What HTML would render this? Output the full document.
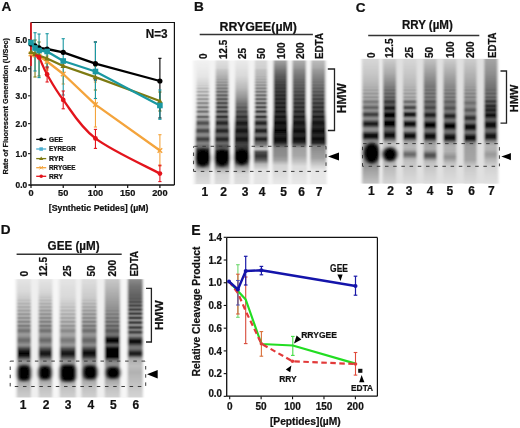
<!DOCTYPE html><html><head><meta charset="utf-8"><style>html,body{margin:0;padding:0;background:#fff;width:520px;height:428px;overflow:hidden}svg{display:block;will-change:transform}</style></head><body>
<svg width="520" height="428" viewBox="0 0 520 428" font-family="'Liberation Sans', sans-serif" font-weight="bold"><style>text{stroke:#111;stroke-width:0.22px;paint-order:stroke}</style>
<rect width="520" height="428" fill="#fff"/>
<defs><filter id="blob" x="-50%" y="-50%" width="200%" height="200%"><feGaussianBlur stdDeviation="1.5"/></filter></defs>
<defs><linearGradient id="g1" gradientUnits="userSpaceOnUse" x1="0" y1="60.6" x2="0" y2="183.6"><stop offset="0.000" stop-color="#f2f2f2"/><stop offset="0.130" stop-color="#e5e5e5"/><stop offset="0.195" stop-color="#d3d3d3"/><stop offset="0.203" stop-color="#cdcdcd"/><stop offset="0.211" stop-color="#d1d1d1"/><stop offset="0.215" stop-color="#cecece"/><stop offset="0.224" stop-color="#bdbdbd"/><stop offset="0.228" stop-color="#bbbbbb"/><stop offset="0.236" stop-color="#cbcbcb"/><stop offset="0.240" stop-color="#cdcdcd"/><stop offset="0.244" stop-color="#c4c4c4"/><stop offset="0.248" stop-color="#b6b6b6"/><stop offset="0.252" stop-color="#acacac"/><stop offset="0.256" stop-color="#afafaf"/><stop offset="0.264" stop-color="#c7c7c7"/><stop offset="0.268" stop-color="#cacaca"/><stop offset="0.272" stop-color="#c0c0c0"/><stop offset="0.280" stop-color="#a3a3a3"/><stop offset="0.285" stop-color="#a3a3a3"/><stop offset="0.293" stop-color="#bebebe"/><stop offset="0.297" stop-color="#c6c6c6"/><stop offset="0.301" stop-color="#c1c1c1"/><stop offset="0.309" stop-color="#9f9f9f"/><stop offset="0.313" stop-color="#969696"/><stop offset="0.317" stop-color="#9c9c9c"/><stop offset="0.325" stop-color="#bbbbbb"/><stop offset="0.329" stop-color="#c0c0c0"/><stop offset="0.333" stop-color="#b9b9b9"/><stop offset="0.341" stop-color="#949494"/><stop offset="0.346" stop-color="#8a8a8a"/><stop offset="0.350" stop-color="#919191"/><stop offset="0.358" stop-color="#b2b2b2"/><stop offset="0.362" stop-color="#b9b9b9"/><stop offset="0.366" stop-color="#b2b2b2"/><stop offset="0.370" stop-color="#a1a1a1"/><stop offset="0.374" stop-color="#8c8c8c"/><stop offset="0.378" stop-color="#7f7f7f"/><stop offset="0.382" stop-color="#828282"/><stop offset="0.390" stop-color="#a7a7a7"/><stop offset="0.394" stop-color="#b2b2b2"/><stop offset="0.398" stop-color="#b2b2b2"/><stop offset="0.402" stop-color="#a6a6a6"/><stop offset="0.411" stop-color="#7b7b7b"/><stop offset="0.415" stop-color="#707070"/><stop offset="0.419" stop-color="#787878"/><stop offset="0.427" stop-color="#a0a0a0"/><stop offset="0.431" stop-color="#adadad"/><stop offset="0.435" stop-color="#b1b1b1"/><stop offset="0.439" stop-color="#aeaeae"/><stop offset="0.443" stop-color="#a5a5a5"/><stop offset="0.447" stop-color="#939393"/><stop offset="0.451" stop-color="#7a7a7a"/><stop offset="0.455" stop-color="#656565"/><stop offset="0.459" stop-color="#616161"/><stop offset="0.463" stop-color="#707070"/><stop offset="0.467" stop-color="#878787"/><stop offset="0.472" stop-color="#989898"/><stop offset="0.476" stop-color="#9d9d9d"/><stop offset="0.480" stop-color="#9a9a9a"/><stop offset="0.488" stop-color="#858585"/><stop offset="0.500" stop-color="#5c5c5c"/><stop offset="0.504" stop-color="#535353"/><stop offset="0.508" stop-color="#505050"/><stop offset="0.512" stop-color="#535353"/><stop offset="0.520" stop-color="#666666"/><stop offset="0.528" stop-color="#7f7f7f"/><stop offset="0.533" stop-color="#888888"/><stop offset="0.537" stop-color="#8c8c8c"/><stop offset="0.541" stop-color="#8c8c8c"/><stop offset="0.545" stop-color="#888888"/><stop offset="0.553" stop-color="#727272"/><stop offset="0.561" stop-color="#575757"/><stop offset="0.565" stop-color="#4d4d4d"/><stop offset="0.569" stop-color="#474747"/><stop offset="0.573" stop-color="#484848"/><stop offset="0.577" stop-color="#4e4e4e"/><stop offset="0.593" stop-color="#7c7c7c"/><stop offset="0.602" stop-color="#898989"/><stop offset="0.606" stop-color="#898989"/><stop offset="0.614" stop-color="#7f7f7f"/><stop offset="0.630" stop-color="#4d4d4d"/><stop offset="0.634" stop-color="#444444"/><stop offset="0.638" stop-color="#404040"/><stop offset="0.642" stop-color="#414141"/><stop offset="0.650" stop-color="#525252"/><stop offset="0.663" stop-color="#747474"/><stop offset="0.671" stop-color="#828282"/><stop offset="0.679" stop-color="#7e7e7e"/><stop offset="0.695" stop-color="#6c6c6c"/><stop offset="0.703" stop-color="#6c6c6c"/><stop offset="0.728" stop-color="#272727"/><stop offset="0.752" stop-color="#0f0f0f"/><stop offset="0.793" stop-color="#1f1f1f"/><stop offset="0.833" stop-color="#484848"/><stop offset="0.858" stop-color="#838383"/><stop offset="0.882" stop-color="#b0b0b0"/><stop offset="0.907" stop-color="#cdcdcd"/><stop offset="1.000" stop-color="#dcdcdc"/></linearGradient><linearGradient id="g2" gradientUnits="userSpaceOnUse" x1="0" y1="60.6" x2="0" y2="183.6"><stop offset="0.000" stop-color="#e0e0e0"/><stop offset="0.061" stop-color="#d4d4d4"/><stop offset="0.077" stop-color="#c5c5c5"/><stop offset="0.106" stop-color="#bababa"/><stop offset="0.126" stop-color="#b1b1b1"/><stop offset="0.134" stop-color="#acacac"/><stop offset="0.142" stop-color="#adadad"/><stop offset="0.150" stop-color="#a3a3a3"/><stop offset="0.154" stop-color="#a1a1a1"/><stop offset="0.163" stop-color="#a7a7a7"/><stop offset="0.167" stop-color="#a3a3a3"/><stop offset="0.175" stop-color="#959595"/><stop offset="0.179" stop-color="#979797"/><stop offset="0.183" stop-color="#9e9e9e"/><stop offset="0.187" stop-color="#a1a1a1"/><stop offset="0.191" stop-color="#9b9b9b"/><stop offset="0.195" stop-color="#8f8f8f"/><stop offset="0.199" stop-color="#888888"/><stop offset="0.203" stop-color="#8c8c8c"/><stop offset="0.211" stop-color="#9c9c9c"/><stop offset="0.215" stop-color="#979797"/><stop offset="0.224" stop-color="#7c7c7c"/><stop offset="0.228" stop-color="#7c7c7c"/><stop offset="0.236" stop-color="#939393"/><stop offset="0.240" stop-color="#969696"/><stop offset="0.244" stop-color="#8b8b8b"/><stop offset="0.248" stop-color="#7a7a7a"/><stop offset="0.252" stop-color="#6e6e6e"/><stop offset="0.256" stop-color="#727272"/><stop offset="0.264" stop-color="#8e8e8e"/><stop offset="0.268" stop-color="#919191"/><stop offset="0.272" stop-color="#868686"/><stop offset="0.276" stop-color="#737373"/><stop offset="0.280" stop-color="#656565"/><stop offset="0.285" stop-color="#656565"/><stop offset="0.293" stop-color="#848484"/><stop offset="0.297" stop-color="#8d8d8d"/><stop offset="0.301" stop-color="#878787"/><stop offset="0.309" stop-color="#616161"/><stop offset="0.313" stop-color="#575757"/><stop offset="0.317" stop-color="#5e5e5e"/><stop offset="0.325" stop-color="#818181"/><stop offset="0.329" stop-color="#878787"/><stop offset="0.333" stop-color="#7f7f7f"/><stop offset="0.341" stop-color="#575757"/><stop offset="0.346" stop-color="#4d4d4d"/><stop offset="0.350" stop-color="#555555"/><stop offset="0.358" stop-color="#7a7a7a"/><stop offset="0.362" stop-color="#818181"/><stop offset="0.366" stop-color="#7b7b7b"/><stop offset="0.370" stop-color="#686868"/><stop offset="0.374" stop-color="#525252"/><stop offset="0.378" stop-color="#444444"/><stop offset="0.382" stop-color="#484848"/><stop offset="0.390" stop-color="#707070"/><stop offset="0.394" stop-color="#7d7d7d"/><stop offset="0.398" stop-color="#7d7d7d"/><stop offset="0.402" stop-color="#717171"/><stop offset="0.411" stop-color="#444444"/><stop offset="0.415" stop-color="#393939"/><stop offset="0.419" stop-color="#424242"/><stop offset="0.427" stop-color="#6d6d6d"/><stop offset="0.431" stop-color="#7a7a7a"/><stop offset="0.435" stop-color="#7f7f7f"/><stop offset="0.439" stop-color="#7d7d7d"/><stop offset="0.443" stop-color="#747474"/><stop offset="0.447" stop-color="#616161"/><stop offset="0.451" stop-color="#484848"/><stop offset="0.455" stop-color="#333333"/><stop offset="0.459" stop-color="#303030"/><stop offset="0.463" stop-color="#3f3f3f"/><stop offset="0.467" stop-color="#565656"/><stop offset="0.472" stop-color="#676767"/><stop offset="0.476" stop-color="#6d6d6d"/><stop offset="0.480" stop-color="#696969"/><stop offset="0.488" stop-color="#565656"/><stop offset="0.500" stop-color="#303030"/><stop offset="0.504" stop-color="#292929"/><stop offset="0.508" stop-color="#272727"/><stop offset="0.512" stop-color="#2b2b2b"/><stop offset="0.520" stop-color="#3f3f3f"/><stop offset="0.528" stop-color="#575757"/><stop offset="0.537" stop-color="#646464"/><stop offset="0.541" stop-color="#646464"/><stop offset="0.549" stop-color="#585858"/><stop offset="0.565" stop-color="#2a2a2a"/><stop offset="0.569" stop-color="#252525"/><stop offset="0.573" stop-color="#262626"/><stop offset="0.577" stop-color="#2c2c2c"/><stop offset="0.593" stop-color="#595959"/><stop offset="0.602" stop-color="#656565"/><stop offset="0.610" stop-color="#636363"/><stop offset="0.618" stop-color="#545454"/><stop offset="0.630" stop-color="#313131"/><stop offset="0.634" stop-color="#282828"/><stop offset="0.638" stop-color="#252525"/><stop offset="0.642" stop-color="#262626"/><stop offset="0.646" stop-color="#2d2d2d"/><stop offset="0.663" stop-color="#5b5b5b"/><stop offset="0.671" stop-color="#696969"/><stop offset="0.683" stop-color="#606060"/><stop offset="0.695" stop-color="#505050"/><stop offset="0.715" stop-color="#595959"/><stop offset="0.720" stop-color="#585858"/><stop offset="0.740" stop-color="#191919"/><stop offset="0.744" stop-color="#0f0f0f"/><stop offset="0.793" stop-color="#1f1f1f"/><stop offset="0.833" stop-color="#474747"/><stop offset="0.878" stop-color="#9d9d9d"/><stop offset="0.890" stop-color="#b5b5b5"/><stop offset="0.923" stop-color="#d2d2d2"/><stop offset="1.000" stop-color="#dcdcdc"/></linearGradient><linearGradient id="g3" gradientUnits="userSpaceOnUse" x1="0" y1="60.6" x2="0" y2="183.6"><stop offset="0.000" stop-color="#eaeaea"/><stop offset="0.126" stop-color="#d9d9d9"/><stop offset="0.220" stop-color="#bababa"/><stop offset="0.293" stop-color="#989898"/><stop offset="0.337" stop-color="#7c7c7c"/><stop offset="0.350" stop-color="#717171"/><stop offset="0.362" stop-color="#727272"/><stop offset="0.370" stop-color="#696969"/><stop offset="0.378" stop-color="#5b5b5b"/><stop offset="0.382" stop-color="#5a5a5a"/><stop offset="0.394" stop-color="#676767"/><stop offset="0.398" stop-color="#666666"/><stop offset="0.402" stop-color="#606060"/><stop offset="0.411" stop-color="#4a4a4a"/><stop offset="0.415" stop-color="#444444"/><stop offset="0.419" stop-color="#454545"/><stop offset="0.427" stop-color="#555555"/><stop offset="0.435" stop-color="#5a5a5a"/><stop offset="0.443" stop-color="#525252"/><stop offset="0.455" stop-color="#303030"/><stop offset="0.459" stop-color="#2e2e2e"/><stop offset="0.472" stop-color="#474747"/><stop offset="0.476" stop-color="#494949"/><stop offset="0.484" stop-color="#414141"/><stop offset="0.504" stop-color="#1d1d1d"/><stop offset="0.512" stop-color="#1b1b1b"/><stop offset="0.524" stop-color="#2a2a2a"/><stop offset="0.533" stop-color="#363636"/><stop offset="0.541" stop-color="#393939"/><stop offset="0.549" stop-color="#313131"/><stop offset="0.565" stop-color="#171717"/><stop offset="0.573" stop-color="#141414"/><stop offset="0.585" stop-color="#242424"/><stop offset="0.598" stop-color="#353535"/><stop offset="0.606" stop-color="#383838"/><stop offset="0.618" stop-color="#2d2d2d"/><stop offset="0.634" stop-color="#151515"/><stop offset="0.642" stop-color="#141414"/><stop offset="0.650" stop-color="#1e1e1e"/><stop offset="0.667" stop-color="#393939"/><stop offset="0.683" stop-color="#434343"/><stop offset="0.695" stop-color="#3f3f3f"/><stop offset="0.711" stop-color="#353535"/><stop offset="0.720" stop-color="#363636"/><stop offset="0.752" stop-color="#0f0f0f"/><stop offset="0.793" stop-color="#242424"/><stop offset="0.825" stop-color="#525252"/><stop offset="0.854" stop-color="#898989"/><stop offset="0.882" stop-color="#b5b5b5"/><stop offset="0.923" stop-color="#d7d7d7"/><stop offset="1.000" stop-color="#dedede"/></linearGradient><linearGradient id="g4" gradientUnits="userSpaceOnUse" x1="0" y1="60.6" x2="0" y2="183.6"><stop offset="0.000" stop-color="#d7d7d7"/><stop offset="0.061" stop-color="#d0d0d0"/><stop offset="0.077" stop-color="#c1c1c1"/><stop offset="0.106" stop-color="#bbbbbb"/><stop offset="0.122" stop-color="#b9b9b9"/><stop offset="0.130" stop-color="#b2b2b2"/><stop offset="0.142" stop-color="#b5b5b5"/><stop offset="0.150" stop-color="#aaaaaa"/><stop offset="0.154" stop-color="#a9a9a9"/><stop offset="0.163" stop-color="#b0b0b0"/><stop offset="0.167" stop-color="#acacac"/><stop offset="0.175" stop-color="#9e9e9e"/><stop offset="0.179" stop-color="#a0a0a0"/><stop offset="0.183" stop-color="#a8a8a8"/><stop offset="0.187" stop-color="#acacac"/><stop offset="0.191" stop-color="#a5a5a5"/><stop offset="0.195" stop-color="#999999"/><stop offset="0.199" stop-color="#919191"/><stop offset="0.203" stop-color="#969696"/><stop offset="0.207" stop-color="#a1a1a1"/><stop offset="0.211" stop-color="#a9a9a9"/><stop offset="0.215" stop-color="#a3a3a3"/><stop offset="0.224" stop-color="#868686"/><stop offset="0.228" stop-color="#868686"/><stop offset="0.236" stop-color="#a2a2a2"/><stop offset="0.240" stop-color="#a6a6a6"/><stop offset="0.244" stop-color="#9a9a9a"/><stop offset="0.248" stop-color="#868686"/><stop offset="0.252" stop-color="#787878"/><stop offset="0.256" stop-color="#7d7d7d"/><stop offset="0.264" stop-color="#9f9f9f"/><stop offset="0.268" stop-color="#a4a4a4"/><stop offset="0.272" stop-color="#979797"/><stop offset="0.276" stop-color="#808080"/><stop offset="0.280" stop-color="#6f6f6f"/><stop offset="0.285" stop-color="#707070"/><stop offset="0.293" stop-color="#969696"/><stop offset="0.297" stop-color="#a1a1a1"/><stop offset="0.301" stop-color="#9b9b9b"/><stop offset="0.309" stop-color="#6e6e6e"/><stop offset="0.313" stop-color="#626262"/><stop offset="0.317" stop-color="#6b6b6b"/><stop offset="0.325" stop-color="#969696"/><stop offset="0.329" stop-color="#9e9e9e"/><stop offset="0.333" stop-color="#949494"/><stop offset="0.341" stop-color="#636363"/><stop offset="0.346" stop-color="#565656"/><stop offset="0.350" stop-color="#606060"/><stop offset="0.358" stop-color="#8f8f8f"/><stop offset="0.362" stop-color="#989898"/><stop offset="0.366" stop-color="#909090"/><stop offset="0.370" stop-color="#797979"/><stop offset="0.374" stop-color="#5c5c5c"/><stop offset="0.378" stop-color="#4b4b4b"/><stop offset="0.382" stop-color="#505050"/><stop offset="0.390" stop-color="#838383"/><stop offset="0.394" stop-color="#929292"/><stop offset="0.398" stop-color="#939393"/><stop offset="0.402" stop-color="#848484"/><stop offset="0.411" stop-color="#4a4a4a"/><stop offset="0.415" stop-color="#3d3d3d"/><stop offset="0.419" stop-color="#484848"/><stop offset="0.427" stop-color="#7d7d7d"/><stop offset="0.431" stop-color="#8d8d8d"/><stop offset="0.435" stop-color="#929292"/><stop offset="0.439" stop-color="#909090"/><stop offset="0.443" stop-color="#848484"/><stop offset="0.447" stop-color="#6e6e6e"/><stop offset="0.451" stop-color="#4e4e4e"/><stop offset="0.455" stop-color="#353535"/><stop offset="0.459" stop-color="#313131"/><stop offset="0.463" stop-color="#444444"/><stop offset="0.467" stop-color="#616161"/><stop offset="0.472" stop-color="#757575"/><stop offset="0.476" stop-color="#7d7d7d"/><stop offset="0.480" stop-color="#797979"/><stop offset="0.488" stop-color="#616161"/><stop offset="0.500" stop-color="#323232"/><stop offset="0.504" stop-color="#282828"/><stop offset="0.508" stop-color="#252525"/><stop offset="0.512" stop-color="#292929"/><stop offset="0.520" stop-color="#404040"/><stop offset="0.528" stop-color="#5d5d5d"/><stop offset="0.533" stop-color="#686868"/><stop offset="0.537" stop-color="#6e6e6e"/><stop offset="0.541" stop-color="#6e6e6e"/><stop offset="0.545" stop-color="#696969"/><stop offset="0.553" stop-color="#515151"/><stop offset="0.561" stop-color="#313131"/><stop offset="0.565" stop-color="#252525"/><stop offset="0.569" stop-color="#1f1f1f"/><stop offset="0.573" stop-color="#1f1f1f"/><stop offset="0.577" stop-color="#272727"/><stop offset="0.593" stop-color="#606060"/><stop offset="0.598" stop-color="#6a6a6a"/><stop offset="0.602" stop-color="#6f6f6f"/><stop offset="0.606" stop-color="#707070"/><stop offset="0.610" stop-color="#6d6d6d"/><stop offset="0.618" stop-color="#5a5a5a"/><stop offset="0.630" stop-color="#2f2f2f"/><stop offset="0.634" stop-color="#252525"/><stop offset="0.638" stop-color="#212121"/><stop offset="0.642" stop-color="#242424"/><stop offset="0.646" stop-color="#2c2c2c"/><stop offset="0.663" stop-color="#606060"/><stop offset="0.671" stop-color="#686868"/><stop offset="0.687" stop-color="#818181"/><stop offset="0.699" stop-color="#a0a0a0"/><stop offset="0.715" stop-color="#c1c1c1"/><stop offset="0.720" stop-color="#c4c4c4"/><stop offset="0.740" stop-color="#606060"/><stop offset="0.744" stop-color="#4f4f4f"/><stop offset="0.776" stop-color="#333333"/><stop offset="0.809" stop-color="#616161"/><stop offset="0.841" stop-color="#b5b5b5"/><stop offset="0.890" stop-color="#e1e1e1"/><stop offset="1.000" stop-color="#e4e4e4"/></linearGradient><linearGradient id="g5" gradientUnits="userSpaceOnUse" x1="0" y1="60.6" x2="0" y2="183.6"><stop offset="0.000" stop-color="#a2a2a2"/><stop offset="0.065" stop-color="#7d7d7d"/><stop offset="0.081" stop-color="#717171"/><stop offset="0.134" stop-color="#575757"/><stop offset="0.146" stop-color="#545454"/><stop offset="0.154" stop-color="#4f4f4f"/><stop offset="0.163" stop-color="#505050"/><stop offset="0.175" stop-color="#464646"/><stop offset="0.187" stop-color="#494949"/><stop offset="0.199" stop-color="#3d3d3d"/><stop offset="0.211" stop-color="#444444"/><stop offset="0.224" stop-color="#383838"/><stop offset="0.228" stop-color="#373737"/><stop offset="0.236" stop-color="#404040"/><stop offset="0.240" stop-color="#404040"/><stop offset="0.252" stop-color="#313131"/><stop offset="0.256" stop-color="#323232"/><stop offset="0.264" stop-color="#3c3c3c"/><stop offset="0.268" stop-color="#3d3d3d"/><stop offset="0.280" stop-color="#2b2b2b"/><stop offset="0.285" stop-color="#2b2b2b"/><stop offset="0.297" stop-color="#3b3b3b"/><stop offset="0.301" stop-color="#393939"/><stop offset="0.309" stop-color="#292929"/><stop offset="0.313" stop-color="#252525"/><stop offset="0.317" stop-color="#282828"/><stop offset="0.325" stop-color="#373737"/><stop offset="0.329" stop-color="#393939"/><stop offset="0.333" stop-color="#363636"/><stop offset="0.341" stop-color="#252525"/><stop offset="0.346" stop-color="#202020"/><stop offset="0.350" stop-color="#242424"/><stop offset="0.358" stop-color="#333333"/><stop offset="0.362" stop-color="#363636"/><stop offset="0.366" stop-color="#333333"/><stop offset="0.378" stop-color="#1c1c1c"/><stop offset="0.382" stop-color="#1e1e1e"/><stop offset="0.390" stop-color="#2e2e2e"/><stop offset="0.394" stop-color="#333333"/><stop offset="0.398" stop-color="#333333"/><stop offset="0.402" stop-color="#2e2e2e"/><stop offset="0.411" stop-color="#1b1b1b"/><stop offset="0.415" stop-color="#171717"/><stop offset="0.419" stop-color="#1a1a1a"/><stop offset="0.427" stop-color="#2c2c2c"/><stop offset="0.435" stop-color="#323232"/><stop offset="0.443" stop-color="#2e2e2e"/><stop offset="0.455" stop-color="#131313"/><stop offset="0.459" stop-color="#111111"/><stop offset="0.472" stop-color="#272727"/><stop offset="0.480" stop-color="#282828"/><stop offset="0.504" stop-color="#0c0c0c"/><stop offset="0.512" stop-color="#0b0b0b"/><stop offset="0.533" stop-color="#202020"/><stop offset="0.545" stop-color="#1f1f1f"/><stop offset="0.565" stop-color="#070707"/><stop offset="0.573" stop-color="#060606"/><stop offset="0.598" stop-color="#1f1f1f"/><stop offset="0.610" stop-color="#212121"/><stop offset="0.634" stop-color="#0a0a0a"/><stop offset="0.642" stop-color="#0a0a0a"/><stop offset="0.663" stop-color="#1e1e1e"/><stop offset="0.699" stop-color="#6d6d6d"/><stop offset="0.711" stop-color="#878787"/><stop offset="0.772" stop-color="#8e8e8e"/><stop offset="0.809" stop-color="#a1a1a1"/><stop offset="0.850" stop-color="#d2d2d2"/><stop offset="1.000" stop-color="#e8e8e8"/></linearGradient><linearGradient id="g6" gradientUnits="userSpaceOnUse" x1="0" y1="60.6" x2="0" y2="183.6"><stop offset="0.000" stop-color="#adadad"/><stop offset="0.061" stop-color="#949494"/><stop offset="0.077" stop-color="#878787"/><stop offset="0.134" stop-color="#707070"/><stop offset="0.146" stop-color="#6d6d6d"/><stop offset="0.154" stop-color="#686868"/><stop offset="0.163" stop-color="#6a6a6a"/><stop offset="0.175" stop-color="#616161"/><stop offset="0.187" stop-color="#656565"/><stop offset="0.199" stop-color="#5a5a5a"/><stop offset="0.211" stop-color="#616161"/><stop offset="0.220" stop-color="#595959"/><stop offset="0.224" stop-color="#545454"/><stop offset="0.228" stop-color="#535353"/><stop offset="0.236" stop-color="#5b5b5b"/><stop offset="0.240" stop-color="#5c5c5c"/><stop offset="0.252" stop-color="#4b4b4b"/><stop offset="0.256" stop-color="#4c4c4c"/><stop offset="0.264" stop-color="#565656"/><stop offset="0.268" stop-color="#575757"/><stop offset="0.280" stop-color="#434343"/><stop offset="0.285" stop-color="#434343"/><stop offset="0.297" stop-color="#525252"/><stop offset="0.301" stop-color="#4f4f4f"/><stop offset="0.309" stop-color="#3e3e3e"/><stop offset="0.313" stop-color="#393939"/><stop offset="0.317" stop-color="#3c3c3c"/><stop offset="0.325" stop-color="#4b4b4b"/><stop offset="0.329" stop-color="#4d4d4d"/><stop offset="0.333" stop-color="#494949"/><stop offset="0.341" stop-color="#373737"/><stop offset="0.346" stop-color="#323232"/><stop offset="0.350" stop-color="#353535"/><stop offset="0.358" stop-color="#454545"/><stop offset="0.362" stop-color="#484848"/><stop offset="0.366" stop-color="#454545"/><stop offset="0.374" stop-color="#323232"/><stop offset="0.378" stop-color="#2b2b2b"/><stop offset="0.382" stop-color="#2d2d2d"/><stop offset="0.390" stop-color="#3e3e3e"/><stop offset="0.394" stop-color="#434343"/><stop offset="0.398" stop-color="#434343"/><stop offset="0.402" stop-color="#3e3e3e"/><stop offset="0.411" stop-color="#292929"/><stop offset="0.415" stop-color="#242424"/><stop offset="0.419" stop-color="#272727"/><stop offset="0.427" stop-color="#3a3a3a"/><stop offset="0.435" stop-color="#414141"/><stop offset="0.443" stop-color="#3b3b3b"/><stop offset="0.455" stop-color="#1d1d1d"/><stop offset="0.459" stop-color="#1b1b1b"/><stop offset="0.472" stop-color="#323232"/><stop offset="0.480" stop-color="#333333"/><stop offset="0.504" stop-color="#141414"/><stop offset="0.512" stop-color="#131313"/><stop offset="0.533" stop-color="#292929"/><stop offset="0.545" stop-color="#282828"/><stop offset="0.565" stop-color="#0f0f0f"/><stop offset="0.573" stop-color="#0d0d0d"/><stop offset="0.598" stop-color="#262626"/><stop offset="0.610" stop-color="#282828"/><stop offset="0.634" stop-color="#101010"/><stop offset="0.642" stop-color="#0f0f0f"/><stop offset="0.663" stop-color="#242424"/><stop offset="0.695" stop-color="#7a7a7a"/><stop offset="0.711" stop-color="#a0a0a0"/><stop offset="0.772" stop-color="#a7a7a7"/><stop offset="0.817" stop-color="#bfbfbf"/><stop offset="0.858" stop-color="#dcdcdc"/><stop offset="1.000" stop-color="#e8e8e8"/></linearGradient><linearGradient id="g7" gradientUnits="userSpaceOnUse" x1="0" y1="60.6" x2="0" y2="183.6"><stop offset="0.000" stop-color="#bcbcbc"/><stop offset="0.061" stop-color="#a8a8a8"/><stop offset="0.077" stop-color="#9b9b9b"/><stop offset="0.126" stop-color="#878787"/><stop offset="0.146" stop-color="#808080"/><stop offset="0.154" stop-color="#7b7b7b"/><stop offset="0.163" stop-color="#7d7d7d"/><stop offset="0.175" stop-color="#737373"/><stop offset="0.187" stop-color="#787878"/><stop offset="0.199" stop-color="#6b6b6b"/><stop offset="0.211" stop-color="#727272"/><stop offset="0.220" stop-color="#686868"/><stop offset="0.224" stop-color="#636363"/><stop offset="0.228" stop-color="#626262"/><stop offset="0.236" stop-color="#6b6b6b"/><stop offset="0.240" stop-color="#6b6b6b"/><stop offset="0.252" stop-color="#585858"/><stop offset="0.256" stop-color="#595959"/><stop offset="0.264" stop-color="#646464"/><stop offset="0.268" stop-color="#646464"/><stop offset="0.280" stop-color="#4f4f4f"/><stop offset="0.285" stop-color="#4e4e4e"/><stop offset="0.293" stop-color="#5b5b5b"/><stop offset="0.297" stop-color="#5e5e5e"/><stop offset="0.301" stop-color="#5b5b5b"/><stop offset="0.309" stop-color="#484848"/><stop offset="0.313" stop-color="#434343"/><stop offset="0.317" stop-color="#454545"/><stop offset="0.325" stop-color="#555555"/><stop offset="0.329" stop-color="#575757"/><stop offset="0.333" stop-color="#535353"/><stop offset="0.341" stop-color="#3f3f3f"/><stop offset="0.346" stop-color="#393939"/><stop offset="0.350" stop-color="#3c3c3c"/><stop offset="0.358" stop-color="#4d4d4d"/><stop offset="0.362" stop-color="#505050"/><stop offset="0.366" stop-color="#4c4c4c"/><stop offset="0.374" stop-color="#383838"/><stop offset="0.378" stop-color="#313131"/><stop offset="0.382" stop-color="#323232"/><stop offset="0.390" stop-color="#444444"/><stop offset="0.394" stop-color="#494949"/><stop offset="0.398" stop-color="#494949"/><stop offset="0.402" stop-color="#434343"/><stop offset="0.411" stop-color="#2d2d2d"/><stop offset="0.415" stop-color="#272727"/><stop offset="0.419" stop-color="#2b2b2b"/><stop offset="0.427" stop-color="#3d3d3d"/><stop offset="0.435" stop-color="#444444"/><stop offset="0.443" stop-color="#3e3e3e"/><stop offset="0.455" stop-color="#1e1e1e"/><stop offset="0.459" stop-color="#1c1c1c"/><stop offset="0.472" stop-color="#343434"/><stop offset="0.476" stop-color="#363636"/><stop offset="0.484" stop-color="#2f2f2f"/><stop offset="0.504" stop-color="#121212"/><stop offset="0.512" stop-color="#121212"/><stop offset="0.533" stop-color="#282828"/><stop offset="0.541" stop-color="#292929"/><stop offset="0.553" stop-color="#1d1d1d"/><stop offset="0.565" stop-color="#0c0c0c"/><stop offset="0.573" stop-color="#0a0a0a"/><stop offset="0.598" stop-color="#252525"/><stop offset="0.610" stop-color="#272727"/><stop offset="0.634" stop-color="#0f0f0f"/><stop offset="0.642" stop-color="#0e0e0e"/><stop offset="0.667" stop-color="#252525"/><stop offset="0.671" stop-color="#292929"/><stop offset="0.695" stop-color="#828282"/><stop offset="0.740" stop-color="#949494"/><stop offset="0.793" stop-color="#a1a1a1"/><stop offset="0.854" stop-color="#d0d0d0"/><stop offset="0.890" stop-color="#e6e6e6"/><stop offset="1.000" stop-color="#e8e8e8"/></linearGradient><filter id="blB" x="-5%" y="-5%" width="110%" height="110%"><feGaussianBlur stdDeviation="1.0 0.75"/></filter></defs>
<g filter="url(#blB)"><rect x="193" y="60.5" width="134" height="124" fill="#f3f3f3"/><polygon points="196.5,60.6 209.2,60.6 209.2,110.0 210.2,135.0 210.2,184.0 195.5,184.0 195.5,135.0 196.5,110.0" fill="url(#g1)"/><polygon points="215.6,60.6 228.6,60.6 228.6,110.0 229.6,135.0 229.6,184.0 214.6,184.0 214.6,135.0 215.6,110.0" fill="url(#g2)"/><polygon points="235.2,60.6 248.4,60.6 248.4,110.0 249.4,135.0 249.4,184.0 234.2,184.0 234.2,135.0 235.2,110.0" fill="url(#g3)"/><polygon points="254.8,60.6 267.2,60.6 267.2,110.0 268.2,135.0 268.2,184.0 253.8,184.0 253.8,135.0 254.8,110.0" fill="url(#g4)"/><polygon points="273.6,60.6 287.2,60.6 287.2,110.0 288.2,135.0 288.2,184.0 272.6,184.0 272.6,135.0 273.6,110.0" fill="url(#g5)"/><polygon points="292.5,60.6 305.9,60.6 305.9,110.0 306.9,135.0 306.9,184.0 291.5,184.0 291.5,135.0 292.5,110.0" fill="url(#g6)"/><polygon points="311.3,60.6 325.2,60.6 325.2,110.0 326.2,135.0 326.2,184.0 310.3,184.0 310.3,135.0 311.3,110.0" fill="url(#g7)"/><ellipse cx="202.9" cy="158.2" rx="7.0" ry="8.6" fill="#000" filter="url(#blob)"/><ellipse cx="222.1" cy="158.0" rx="7.0" ry="8.6" fill="#000" filter="url(#blob)"/><ellipse cx="241.8" cy="157.2" rx="7.0" ry="8.0" fill="#000" filter="url(#blob)"/></g>
<defs><linearGradient id="g8" gradientUnits="userSpaceOnUse" x1="0" y1="59.0" x2="0" y2="183.5"><stop offset="0.000" stop-color="#d7d7d7"/><stop offset="0.124" stop-color="#c6c6c6"/><stop offset="0.213" stop-color="#b4b4b4"/><stop offset="0.225" stop-color="#adadad"/><stop offset="0.237" stop-color="#afafaf"/><stop offset="0.249" stop-color="#a1a1a1"/><stop offset="0.261" stop-color="#acacac"/><stop offset="0.265" stop-color="#ababab"/><stop offset="0.277" stop-color="#9a9a9a"/><stop offset="0.281" stop-color="#9c9c9c"/><stop offset="0.289" stop-color="#a8a8a8"/><stop offset="0.293" stop-color="#a9a9a9"/><stop offset="0.301" stop-color="#9d9d9d"/><stop offset="0.305" stop-color="#979797"/><stop offset="0.309" stop-color="#959595"/><stop offset="0.317" stop-color="#a2a2a2"/><stop offset="0.321" stop-color="#a4a4a4"/><stop offset="0.325" stop-color="#9f9f9f"/><stop offset="0.341" stop-color="#7c7c7c"/><stop offset="0.345" stop-color="#7a7a7a"/><stop offset="0.353" stop-color="#848484"/><stop offset="0.361" stop-color="#929292"/><stop offset="0.365" stop-color="#939393"/><stop offset="0.369" stop-color="#8f8f8f"/><stop offset="0.378" stop-color="#7b7b7b"/><stop offset="0.386" stop-color="#676767"/><stop offset="0.390" stop-color="#646464"/><stop offset="0.394" stop-color="#676767"/><stop offset="0.406" stop-color="#848484"/><stop offset="0.410" stop-color="#8b8b8b"/><stop offset="0.414" stop-color="#8e8e8e"/><stop offset="0.418" stop-color="#8b8b8b"/><stop offset="0.426" stop-color="#777777"/><stop offset="0.438" stop-color="#4d4d4d"/><stop offset="0.442" stop-color="#444444"/><stop offset="0.446" stop-color="#414141"/><stop offset="0.450" stop-color="#444444"/><stop offset="0.458" stop-color="#5a5a5a"/><stop offset="0.466" stop-color="#767676"/><stop offset="0.474" stop-color="#888888"/><stop offset="0.478" stop-color="#8a8a8a"/><stop offset="0.482" stop-color="#898989"/><stop offset="0.490" stop-color="#797979"/><stop offset="0.502" stop-color="#4e4e4e"/><stop offset="0.510" stop-color="#303030"/><stop offset="0.514" stop-color="#252525"/><stop offset="0.518" stop-color="#1f1f1f"/><stop offset="0.522" stop-color="#1e1e1e"/><stop offset="0.526" stop-color="#232323"/><stop offset="0.534" stop-color="#3b3b3b"/><stop offset="0.550" stop-color="#777777"/><stop offset="0.558" stop-color="#898989"/><stop offset="0.566" stop-color="#8e8e8e"/><stop offset="0.574" stop-color="#888888"/><stop offset="0.582" stop-color="#757575"/><stop offset="0.594" stop-color="#484848"/><stop offset="0.606" stop-color="#1a1a1a"/><stop offset="0.610" stop-color="#101010"/><stop offset="0.614" stop-color="#0b0b0b"/><stop offset="0.618" stop-color="#0a0a0a"/><stop offset="0.622" stop-color="#0f0f0f"/><stop offset="0.631" stop-color="#252525"/><stop offset="0.651" stop-color="#737373"/><stop offset="0.659" stop-color="#868686"/><stop offset="0.671" stop-color="#939393"/><stop offset="0.751" stop-color="#969696"/><stop offset="0.863" stop-color="#979797"/><stop offset="1.000" stop-color="#c3c3c3"/></linearGradient><linearGradient id="g9" gradientUnits="userSpaceOnUse" x1="0" y1="59.0" x2="0" y2="183.5"><stop offset="0.000" stop-color="#cdcdcd"/><stop offset="0.116" stop-color="#aaaaaa"/><stop offset="0.213" stop-color="#838383"/><stop offset="0.225" stop-color="#7a7a7a"/><stop offset="0.237" stop-color="#7a7a7a"/><stop offset="0.249" stop-color="#696969"/><stop offset="0.261" stop-color="#757575"/><stop offset="0.265" stop-color="#747474"/><stop offset="0.277" stop-color="#626262"/><stop offset="0.281" stop-color="#646464"/><stop offset="0.289" stop-color="#707070"/><stop offset="0.293" stop-color="#717171"/><stop offset="0.301" stop-color="#636363"/><stop offset="0.305" stop-color="#5c5c5c"/><stop offset="0.309" stop-color="#5a5a5a"/><stop offset="0.317" stop-color="#666666"/><stop offset="0.321" stop-color="#666666"/><stop offset="0.325" stop-color="#616161"/><stop offset="0.341" stop-color="#3d3d3d"/><stop offset="0.345" stop-color="#3b3b3b"/><stop offset="0.353" stop-color="#464646"/><stop offset="0.361" stop-color="#555555"/><stop offset="0.365" stop-color="#585858"/><stop offset="0.369" stop-color="#565656"/><stop offset="0.373" stop-color="#4f4f4f"/><stop offset="0.390" stop-color="#1e1e1e"/><stop offset="0.394" stop-color="#1a1a1a"/><stop offset="0.398" stop-color="#1d1d1d"/><stop offset="0.410" stop-color="#3f3f3f"/><stop offset="0.414" stop-color="#474747"/><stop offset="0.418" stop-color="#4a4a4a"/><stop offset="0.422" stop-color="#474747"/><stop offset="0.426" stop-color="#3f3f3f"/><stop offset="0.434" stop-color="#222222"/><stop offset="0.442" stop-color="#020202"/><stop offset="0.454" stop-color="#000000"/><stop offset="0.458" stop-color="#030303"/><stop offset="0.470" stop-color="#313131"/><stop offset="0.474" stop-color="#3d3d3d"/><stop offset="0.478" stop-color="#444444"/><stop offset="0.482" stop-color="#464646"/><stop offset="0.486" stop-color="#434343"/><stop offset="0.494" stop-color="#313131"/><stop offset="0.506" stop-color="#090909"/><stop offset="0.510" stop-color="#000000"/><stop offset="0.526" stop-color="#000000"/><stop offset="0.538" stop-color="#282828"/><stop offset="0.550" stop-color="#4e4e4e"/><stop offset="0.558" stop-color="#5c5c5c"/><stop offset="0.566" stop-color="#5e5e5e"/><stop offset="0.578" stop-color="#535353"/><stop offset="0.590" stop-color="#373737"/><stop offset="0.602" stop-color="#171717"/><stop offset="0.610" stop-color="#0c0c0c"/><stop offset="0.614" stop-color="#0c0c0c"/><stop offset="0.622" stop-color="#181818"/><stop offset="0.631" stop-color="#313131"/><stop offset="0.647" stop-color="#6c6c6c"/><stop offset="0.663" stop-color="#9d9d9d"/><stop offset="0.679" stop-color="#bcbcbc"/><stop offset="0.683" stop-color="#c2c2c2"/><stop offset="0.815" stop-color="#b0b0b0"/><stop offset="1.000" stop-color="#d4d4d4"/></linearGradient><linearGradient id="g10" gradientUnits="userSpaceOnUse" x1="0" y1="59.0" x2="0" y2="183.5"><stop offset="0.000" stop-color="#d7d7d7"/><stop offset="0.124" stop-color="#c6c6c6"/><stop offset="0.213" stop-color="#b6b6b6"/><stop offset="0.225" stop-color="#afafaf"/><stop offset="0.237" stop-color="#b2b2b2"/><stop offset="0.249" stop-color="#a4a4a4"/><stop offset="0.261" stop-color="#b0b0b0"/><stop offset="0.265" stop-color="#afafaf"/><stop offset="0.277" stop-color="#9e9e9e"/><stop offset="0.281" stop-color="#a1a1a1"/><stop offset="0.289" stop-color="#adadad"/><stop offset="0.293" stop-color="#afafaf"/><stop offset="0.301" stop-color="#a3a3a3"/><stop offset="0.305" stop-color="#9c9c9c"/><stop offset="0.309" stop-color="#9c9c9c"/><stop offset="0.317" stop-color="#a8a8a8"/><stop offset="0.321" stop-color="#a9a9a9"/><stop offset="0.325" stop-color="#a2a2a2"/><stop offset="0.337" stop-color="#7b7b7b"/><stop offset="0.341" stop-color="#717171"/><stop offset="0.345" stop-color="#6e6e6e"/><stop offset="0.349" stop-color="#747474"/><stop offset="0.357" stop-color="#8b8b8b"/><stop offset="0.361" stop-color="#939393"/><stop offset="0.365" stop-color="#949494"/><stop offset="0.369" stop-color="#8e8e8e"/><stop offset="0.373" stop-color="#808080"/><stop offset="0.382" stop-color="#5a5a5a"/><stop offset="0.386" stop-color="#4b4b4b"/><stop offset="0.390" stop-color="#464646"/><stop offset="0.394" stop-color="#4b4b4b"/><stop offset="0.398" stop-color="#595959"/><stop offset="0.406" stop-color="#7c7c7c"/><stop offset="0.410" stop-color="#888888"/><stop offset="0.414" stop-color="#8c8c8c"/><stop offset="0.418" stop-color="#888888"/><stop offset="0.422" stop-color="#7c7c7c"/><stop offset="0.426" stop-color="#6a6a6a"/><stop offset="0.438" stop-color="#272727"/><stop offset="0.442" stop-color="#191919"/><stop offset="0.446" stop-color="#141414"/><stop offset="0.450" stop-color="#191919"/><stop offset="0.454" stop-color="#272727"/><stop offset="0.466" stop-color="#696969"/><stop offset="0.470" stop-color="#7b7b7b"/><stop offset="0.474" stop-color="#878787"/><stop offset="0.478" stop-color="#8e8e8e"/><stop offset="0.482" stop-color="#8f8f8f"/><stop offset="0.486" stop-color="#8a8a8a"/><stop offset="0.490" stop-color="#808080"/><stop offset="0.498" stop-color="#606060"/><stop offset="0.510" stop-color="#262626"/><stop offset="0.514" stop-color="#171717"/><stop offset="0.518" stop-color="#0d0d0d"/><stop offset="0.522" stop-color="#0a0a0a"/><stop offset="0.526" stop-color="#0d0d0d"/><stop offset="0.530" stop-color="#171717"/><stop offset="0.538" stop-color="#393939"/><stop offset="0.550" stop-color="#717171"/><stop offset="0.558" stop-color="#8a8a8a"/><stop offset="0.566" stop-color="#949494"/><stop offset="0.574" stop-color="#8f8f8f"/><stop offset="0.582" stop-color="#7c7c7c"/><stop offset="0.594" stop-color="#4c4c4c"/><stop offset="0.606" stop-color="#1c1c1c"/><stop offset="0.610" stop-color="#111111"/><stop offset="0.614" stop-color="#0b0b0b"/><stop offset="0.618" stop-color="#0a0a0a"/><stop offset="0.622" stop-color="#0f0f0f"/><stop offset="0.631" stop-color="#272727"/><stop offset="0.651" stop-color="#7a7a7a"/><stop offset="0.659" stop-color="#939393"/><stop offset="0.671" stop-color="#a9a9a9"/><stop offset="0.691" stop-color="#b6b6b6"/><stop offset="0.711" stop-color="#b7b7b7"/><stop offset="0.727" stop-color="#adadad"/><stop offset="0.739" stop-color="#989898"/><stop offset="0.755" stop-color="#747474"/><stop offset="0.763" stop-color="#6a6a6a"/><stop offset="0.771" stop-color="#6c6c6c"/><stop offset="0.779" stop-color="#797979"/><stop offset="0.799" stop-color="#a9a9a9"/><stop offset="0.811" stop-color="#bababa"/><stop offset="0.831" stop-color="#c3c3c3"/><stop offset="1.000" stop-color="#dcdcdc"/></linearGradient><linearGradient id="g11" gradientUnits="userSpaceOnUse" x1="0" y1="59.0" x2="0" y2="183.5"><stop offset="0.000" stop-color="#c3c3c3"/><stop offset="0.225" stop-color="#767676"/><stop offset="0.237" stop-color="#7b7b7b"/><stop offset="0.249" stop-color="#6e6e6e"/><stop offset="0.261" stop-color="#7b7b7b"/><stop offset="0.265" stop-color="#7b7b7b"/><stop offset="0.277" stop-color="#6b6b6b"/><stop offset="0.281" stop-color="#6e6e6e"/><stop offset="0.289" stop-color="#7b7b7b"/><stop offset="0.293" stop-color="#7d7d7d"/><stop offset="0.301" stop-color="#717171"/><stop offset="0.305" stop-color="#6b6b6b"/><stop offset="0.309" stop-color="#6a6a6a"/><stop offset="0.317" stop-color="#777777"/><stop offset="0.321" stop-color="#797979"/><stop offset="0.325" stop-color="#757575"/><stop offset="0.341" stop-color="#575757"/><stop offset="0.345" stop-color="#555555"/><stop offset="0.353" stop-color="#5f5f5f"/><stop offset="0.361" stop-color="#6b6b6b"/><stop offset="0.365" stop-color="#6c6c6c"/><stop offset="0.373" stop-color="#636363"/><stop offset="0.386" stop-color="#494949"/><stop offset="0.390" stop-color="#464646"/><stop offset="0.394" stop-color="#494949"/><stop offset="0.410" stop-color="#696969"/><stop offset="0.418" stop-color="#6b6b6b"/><stop offset="0.426" stop-color="#5f5f5f"/><stop offset="0.442" stop-color="#2c2c2c"/><stop offset="0.446" stop-color="#232323"/><stop offset="0.450" stop-color="#202020"/><stop offset="0.454" stop-color="#242424"/><stop offset="0.462" stop-color="#393939"/><stop offset="0.474" stop-color="#606060"/><stop offset="0.482" stop-color="#6d6d6d"/><stop offset="0.490" stop-color="#6b6b6b"/><stop offset="0.498" stop-color="#5c5c5c"/><stop offset="0.506" stop-color="#424242"/><stop offset="0.518" stop-color="#141414"/><stop offset="0.522" stop-color="#080808"/><stop offset="0.526" stop-color="#000000"/><stop offset="0.534" stop-color="#010101"/><stop offset="0.538" stop-color="#090909"/><stop offset="0.546" stop-color="#242424"/><stop offset="0.558" stop-color="#525252"/><stop offset="0.566" stop-color="#666666"/><stop offset="0.574" stop-color="#6d6d6d"/><stop offset="0.582" stop-color="#686868"/><stop offset="0.590" stop-color="#565656"/><stop offset="0.610" stop-color="#161616"/><stop offset="0.618" stop-color="#080808"/><stop offset="0.622" stop-color="#080808"/><stop offset="0.627" stop-color="#0c0c0c"/><stop offset="0.635" stop-color="#212121"/><stop offset="0.655" stop-color="#6d6d6d"/><stop offset="0.663" stop-color="#848484"/><stop offset="0.675" stop-color="#999999"/><stop offset="0.695" stop-color="#a8a8a8"/><stop offset="0.719" stop-color="#a9a9a9"/><stop offset="0.731" stop-color="#a1a1a1"/><stop offset="0.743" stop-color="#8c8c8c"/><stop offset="0.763" stop-color="#5b5b5b"/><stop offset="0.771" stop-color="#505050"/><stop offset="0.779" stop-color="#525252"/><stop offset="0.787" stop-color="#606060"/><stop offset="0.811" stop-color="#a2a2a2"/><stop offset="0.823" stop-color="#b7b7b7"/><stop offset="0.839" stop-color="#c2c2c2"/><stop offset="0.944" stop-color="#d4d4d4"/><stop offset="1.000" stop-color="#dcdcdc"/></linearGradient><linearGradient id="g12" gradientUnits="userSpaceOnUse" x1="0" y1="59.0" x2="0" y2="183.5"><stop offset="0.000" stop-color="#cdcdcd"/><stop offset="0.185" stop-color="#959595"/><stop offset="0.217" stop-color="#8b8b8b"/><stop offset="0.225" stop-color="#878787"/><stop offset="0.237" stop-color="#8a8a8a"/><stop offset="0.249" stop-color="#7b7b7b"/><stop offset="0.261" stop-color="#878787"/><stop offset="0.265" stop-color="#868686"/><stop offset="0.277" stop-color="#757575"/><stop offset="0.281" stop-color="#777777"/><stop offset="0.289" stop-color="#838383"/><stop offset="0.293" stop-color="#858585"/><stop offset="0.301" stop-color="#797979"/><stop offset="0.305" stop-color="#727272"/><stop offset="0.309" stop-color="#717171"/><stop offset="0.317" stop-color="#7f7f7f"/><stop offset="0.321" stop-color="#818181"/><stop offset="0.325" stop-color="#7d7d7d"/><stop offset="0.341" stop-color="#636363"/><stop offset="0.345" stop-color="#616161"/><stop offset="0.353" stop-color="#686868"/><stop offset="0.361" stop-color="#747474"/><stop offset="0.369" stop-color="#767676"/><stop offset="0.378" stop-color="#6b6b6b"/><stop offset="0.390" stop-color="#535353"/><stop offset="0.394" stop-color="#505050"/><stop offset="0.398" stop-color="#535353"/><stop offset="0.414" stop-color="#707070"/><stop offset="0.422" stop-color="#757575"/><stop offset="0.430" stop-color="#6c6c6c"/><stop offset="0.438" stop-color="#585858"/><stop offset="0.450" stop-color="#2f2f2f"/><stop offset="0.454" stop-color="#272727"/><stop offset="0.458" stop-color="#242424"/><stop offset="0.462" stop-color="#272727"/><stop offset="0.470" stop-color="#3c3c3c"/><stop offset="0.482" stop-color="#636363"/><stop offset="0.490" stop-color="#6f6f6f"/><stop offset="0.498" stop-color="#6d6d6d"/><stop offset="0.506" stop-color="#5e5e5e"/><stop offset="0.514" stop-color="#434343"/><stop offset="0.526" stop-color="#141414"/><stop offset="0.530" stop-color="#080808"/><stop offset="0.534" stop-color="#000000"/><stop offset="0.542" stop-color="#000000"/><stop offset="0.546" stop-color="#080808"/><stop offset="0.554" stop-color="#242424"/><stop offset="0.566" stop-color="#515151"/><stop offset="0.574" stop-color="#666666"/><stop offset="0.582" stop-color="#6e6e6e"/><stop offset="0.590" stop-color="#6a6a6a"/><stop offset="0.598" stop-color="#5a5a5a"/><stop offset="0.618" stop-color="#191919"/><stop offset="0.627" stop-color="#0b0b0b"/><stop offset="0.631" stop-color="#090909"/><stop offset="0.635" stop-color="#0d0d0d"/><stop offset="0.643" stop-color="#202020"/><stop offset="0.655" stop-color="#505050"/><stop offset="0.667" stop-color="#7e7e7e"/><stop offset="0.679" stop-color="#9b9b9b"/><stop offset="0.695" stop-color="#aeaeae"/><stop offset="0.711" stop-color="#b2b2b2"/><stop offset="0.743" stop-color="#b0b0b0"/><stop offset="0.763" stop-color="#a2a2a2"/><stop offset="0.783" stop-color="#939393"/><stop offset="0.795" stop-color="#959595"/><stop offset="0.815" stop-color="#aaaaaa"/><stop offset="0.835" stop-color="#bfbfbf"/><stop offset="0.863" stop-color="#cdcdcd"/><stop offset="1.000" stop-color="#dedede"/></linearGradient><linearGradient id="g13" gradientUnits="userSpaceOnUse" x1="0" y1="59.0" x2="0" y2="183.5"><stop offset="0.000" stop-color="#cdcdcd"/><stop offset="0.213" stop-color="#a0a0a0"/><stop offset="0.225" stop-color="#999999"/><stop offset="0.237" stop-color="#9b9b9b"/><stop offset="0.249" stop-color="#8d8d8d"/><stop offset="0.261" stop-color="#989898"/><stop offset="0.265" stop-color="#979797"/><stop offset="0.277" stop-color="#868686"/><stop offset="0.281" stop-color="#888888"/><stop offset="0.289" stop-color="#949494"/><stop offset="0.293" stop-color="#959595"/><stop offset="0.301" stop-color="#898989"/><stop offset="0.305" stop-color="#828282"/><stop offset="0.309" stop-color="#818181"/><stop offset="0.317" stop-color="#8f8f8f"/><stop offset="0.321" stop-color="#929292"/><stop offset="0.337" stop-color="#848484"/><stop offset="0.349" stop-color="#707070"/><stop offset="0.353" stop-color="#6e6e6e"/><stop offset="0.361" stop-color="#757575"/><stop offset="0.373" stop-color="#858585"/><stop offset="0.382" stop-color="#868686"/><stop offset="0.390" stop-color="#7d7d7d"/><stop offset="0.406" stop-color="#5d5d5d"/><stop offset="0.410" stop-color="#5a5a5a"/><stop offset="0.414" stop-color="#5c5c5c"/><stop offset="0.430" stop-color="#7a7a7a"/><stop offset="0.438" stop-color="#7f7f7f"/><stop offset="0.446" stop-color="#767676"/><stop offset="0.454" stop-color="#616161"/><stop offset="0.466" stop-color="#393939"/><stop offset="0.470" stop-color="#303030"/><stop offset="0.474" stop-color="#2d2d2d"/><stop offset="0.478" stop-color="#303030"/><stop offset="0.486" stop-color="#444444"/><stop offset="0.494" stop-color="#5e5e5e"/><stop offset="0.502" stop-color="#6d6d6d"/><stop offset="0.506" stop-color="#6e6e6e"/><stop offset="0.510" stop-color="#6b6b6b"/><stop offset="0.518" stop-color="#595959"/><stop offset="0.534" stop-color="#1c1c1c"/><stop offset="0.538" stop-color="#101010"/><stop offset="0.542" stop-color="#080808"/><stop offset="0.546" stop-color="#050505"/><stop offset="0.550" stop-color="#080808"/><stop offset="0.554" stop-color="#101010"/><stop offset="0.562" stop-color="#2a2a2a"/><stop offset="0.574" stop-color="#575757"/><stop offset="0.582" stop-color="#6a6a6a"/><stop offset="0.590" stop-color="#6e6e6e"/><stop offset="0.598" stop-color="#636363"/><stop offset="0.610" stop-color="#3f3f3f"/><stop offset="0.622" stop-color="#191919"/><stop offset="0.631" stop-color="#0d0d0d"/><stop offset="0.635" stop-color="#0d0d0d"/><stop offset="0.639" stop-color="#121212"/><stop offset="0.647" stop-color="#272727"/><stop offset="0.667" stop-color="#717171"/><stop offset="0.675" stop-color="#868686"/><stop offset="0.687" stop-color="#979797"/><stop offset="0.703" stop-color="#9f9f9f"/><stop offset="0.811" stop-color="#a5a5a5"/><stop offset="0.859" stop-color="#c8c8c8"/><stop offset="1.000" stop-color="#dcdcdc"/></linearGradient><linearGradient id="g14" gradientUnits="userSpaceOnUse" x1="0" y1="59.0" x2="0" y2="183.5"><stop offset="0.000" stop-color="#a5a5a5"/><stop offset="0.120" stop-color="#8e8e8e"/><stop offset="0.241" stop-color="#6f6f6f"/><stop offset="0.249" stop-color="#686868"/><stop offset="0.261" stop-color="#707070"/><stop offset="0.265" stop-color="#707070"/><stop offset="0.277" stop-color="#606060"/><stop offset="0.281" stop-color="#636363"/><stop offset="0.289" stop-color="#6f6f6f"/><stop offset="0.293" stop-color="#717171"/><stop offset="0.301" stop-color="#656565"/><stop offset="0.305" stop-color="#5e5e5e"/><stop offset="0.309" stop-color="#5c5c5c"/><stop offset="0.317" stop-color="#686868"/><stop offset="0.321" stop-color="#696969"/><stop offset="0.325" stop-color="#616161"/><stop offset="0.337" stop-color="#404040"/><stop offset="0.341" stop-color="#3c3c3c"/><stop offset="0.345" stop-color="#3f3f3f"/><stop offset="0.353" stop-color="#505050"/><stop offset="0.357" stop-color="#545454"/><stop offset="0.361" stop-color="#515151"/><stop offset="0.373" stop-color="#303030"/><stop offset="0.378" stop-color="#2b2b2b"/><stop offset="0.382" stop-color="#2d2d2d"/><stop offset="0.390" stop-color="#393939"/><stop offset="0.394" stop-color="#3a3a3a"/><stop offset="0.402" stop-color="#2c2c2c"/><stop offset="0.406" stop-color="#242424"/><stop offset="0.410" stop-color="#212121"/><stop offset="0.414" stop-color="#232323"/><stop offset="0.426" stop-color="#383838"/><stop offset="0.430" stop-color="#393939"/><stop offset="0.434" stop-color="#343434"/><stop offset="0.446" stop-color="#161616"/><stop offset="0.450" stop-color="#101010"/><stop offset="0.454" stop-color="#0f0f0f"/><stop offset="0.458" stop-color="#151515"/><stop offset="0.466" stop-color="#2c2c2c"/><stop offset="0.474" stop-color="#474747"/><stop offset="0.482" stop-color="#575757"/><stop offset="0.490" stop-color="#595959"/><stop offset="0.498" stop-color="#4f4f4f"/><stop offset="0.510" stop-color="#2e2e2e"/><stop offset="0.522" stop-color="#0d0d0d"/><stop offset="0.526" stop-color="#070707"/><stop offset="0.530" stop-color="#050505"/><stop offset="0.534" stop-color="#080808"/><stop offset="0.542" stop-color="#191919"/><stop offset="0.558" stop-color="#4c4c4c"/><stop offset="0.566" stop-color="#5d5d5d"/><stop offset="0.574" stop-color="#636363"/><stop offset="0.582" stop-color="#5f5f5f"/><stop offset="0.590" stop-color="#525252"/><stop offset="0.610" stop-color="#1c1c1c"/><stop offset="0.618" stop-color="#131313"/><stop offset="0.627" stop-color="#171717"/><stop offset="0.635" stop-color="#2a2a2a"/><stop offset="0.655" stop-color="#727272"/><stop offset="0.667" stop-color="#929292"/><stop offset="0.679" stop-color="#a4a4a4"/><stop offset="0.699" stop-color="#b6b6b6"/><stop offset="0.727" stop-color="#b2b2b2"/><stop offset="0.763" stop-color="#9a9a9a"/><stop offset="0.779" stop-color="#9f9f9f"/><stop offset="0.807" stop-color="#b5b5b5"/><stop offset="0.863" stop-color="#d2d2d2"/><stop offset="1.000" stop-color="#e1e1e1"/></linearGradient><filter id="blC" x="-5%" y="-5%" width="110%" height="110%"><feGaussianBlur stdDeviation="1.0 0.75"/></filter></defs>
<g filter="url(#blC)"><rect x="361.5" y="58.8" width="137" height="124.7" fill="#e0e0e0"/><rect x="362.5" y="59" width="16.69999999999999" height="124.5" fill="url(#g8)"/><rect x="383.2" y="59" width="13.0" height="124.5" fill="url(#g9)"/><rect x="403" y="59" width="13.600000000000023" height="124.5" fill="url(#g10)"/><rect x="423.6" y="59" width="13.0" height="124.5" fill="url(#g11)"/><rect x="443.4" y="59" width="13.0" height="124.5" fill="url(#g12)"/><rect x="463.8" y="59" width="12.800000000000011" height="124.5" fill="url(#g13)"/><rect x="484.3" y="59" width="12.899999999999977" height="124.5" fill="url(#g14)"/><ellipse cx="371.8" cy="153.2" rx="8.4" ry="10.4" fill="#000000" fill-opacity="1.0" filter="url(#blob)"/><ellipse cx="390.0" cy="154.4" rx="7.4" ry="6.8" fill="#000000" fill-opacity="1.0" filter="url(#blob)"/><rect x="379.9" y="58.8" width="1" height="124.7" fill="#fff"/></g>
<defs><linearGradient id="g15" gradientUnits="userSpaceOnUse" x1="0" y1="279.2" x2="0" y2="397.2"><stop offset="0.000" stop-color="#e4e4e4"/><stop offset="0.106" stop-color="#d9d9d9"/><stop offset="0.161" stop-color="#cbcbcb"/><stop offset="0.169" stop-color="#c7c7c7"/><stop offset="0.178" stop-color="#bfbfbf"/><stop offset="0.191" stop-color="#c4c4c4"/><stop offset="0.195" stop-color="#c2c2c2"/><stop offset="0.203" stop-color="#b6b6b6"/><stop offset="0.208" stop-color="#b3b3b3"/><stop offset="0.220" stop-color="#bfbfbf"/><stop offset="0.225" stop-color="#bbbbbb"/><stop offset="0.233" stop-color="#acacac"/><stop offset="0.237" stop-color="#ababab"/><stop offset="0.250" stop-color="#b9b9b9"/><stop offset="0.254" stop-color="#b5b5b5"/><stop offset="0.263" stop-color="#a4a4a4"/><stop offset="0.267" stop-color="#a2a2a2"/><stop offset="0.280" stop-color="#b4b4b4"/><stop offset="0.284" stop-color="#b1b1b1"/><stop offset="0.292" stop-color="#9d9d9d"/><stop offset="0.297" stop-color="#989898"/><stop offset="0.301" stop-color="#9c9c9c"/><stop offset="0.309" stop-color="#adadad"/><stop offset="0.314" stop-color="#aeaeae"/><stop offset="0.318" stop-color="#a6a6a6"/><stop offset="0.326" stop-color="#909090"/><stop offset="0.331" stop-color="#909090"/><stop offset="0.339" stop-color="#a3a3a3"/><stop offset="0.343" stop-color="#a9a9a9"/><stop offset="0.347" stop-color="#a6a6a6"/><stop offset="0.356" stop-color="#8e8e8e"/><stop offset="0.360" stop-color="#868686"/><stop offset="0.364" stop-color="#888888"/><stop offset="0.373" stop-color="#9e9e9e"/><stop offset="0.377" stop-color="#a3a3a3"/><stop offset="0.381" stop-color="#9f9f9f"/><stop offset="0.390" stop-color="#858585"/><stop offset="0.394" stop-color="#7c7c7c"/><stop offset="0.398" stop-color="#7d7d7d"/><stop offset="0.407" stop-color="#909090"/><stop offset="0.411" stop-color="#949494"/><stop offset="0.415" stop-color="#919191"/><stop offset="0.432" stop-color="#757575"/><stop offset="0.441" stop-color="#757575"/><stop offset="0.462" stop-color="#969696"/><stop offset="0.470" stop-color="#9b9b9b"/><stop offset="0.483" stop-color="#949494"/><stop offset="0.508" stop-color="#707070"/><stop offset="0.517" stop-color="#6b6b6b"/><stop offset="0.525" stop-color="#6e6e6e"/><stop offset="0.551" stop-color="#8e8e8e"/><stop offset="0.559" stop-color="#909090"/><stop offset="0.572" stop-color="#777777"/><stop offset="0.589" stop-color="#474747"/><stop offset="0.614" stop-color="#111111"/><stop offset="0.623" stop-color="#060606"/><stop offset="0.631" stop-color="#030303"/><stop offset="0.640" stop-color="#0b0b0b"/><stop offset="0.653" stop-color="#282828"/><stop offset="0.678" stop-color="#727272"/><stop offset="0.691" stop-color="#8b8b8b"/><stop offset="0.703" stop-color="#9a9a9a"/><stop offset="0.737" stop-color="#a1a1a1"/><stop offset="0.860" stop-color="#a7a7a7"/><stop offset="0.919" stop-color="#bcbcbc"/><stop offset="1.000" stop-color="#cdcdcd"/></linearGradient><linearGradient id="g16" gradientUnits="userSpaceOnUse" x1="0" y1="279.2" x2="0" y2="397.2"><stop offset="0.000" stop-color="#e4e4e4"/><stop offset="0.110" stop-color="#d6d6d6"/><stop offset="0.144" stop-color="#cbcbcb"/><stop offset="0.153" stop-color="#c5c5c5"/><stop offset="0.165" stop-color="#c8c8c8"/><stop offset="0.178" stop-color="#b9b9b9"/><stop offset="0.191" stop-color="#c2c2c2"/><stop offset="0.195" stop-color="#c0c0c0"/><stop offset="0.203" stop-color="#b2b2b2"/><stop offset="0.208" stop-color="#afafaf"/><stop offset="0.220" stop-color="#bbbbbb"/><stop offset="0.225" stop-color="#b8b8b8"/><stop offset="0.233" stop-color="#a8a8a8"/><stop offset="0.237" stop-color="#a6a6a6"/><stop offset="0.246" stop-color="#b2b2b2"/><stop offset="0.250" stop-color="#b5b5b5"/><stop offset="0.254" stop-color="#b1b1b1"/><stop offset="0.263" stop-color="#9e9e9e"/><stop offset="0.267" stop-color="#9c9c9c"/><stop offset="0.280" stop-color="#afafaf"/><stop offset="0.284" stop-color="#acacac"/><stop offset="0.292" stop-color="#989898"/><stop offset="0.297" stop-color="#939393"/><stop offset="0.301" stop-color="#979797"/><stop offset="0.309" stop-color="#a8a8a8"/><stop offset="0.314" stop-color="#a9a9a9"/><stop offset="0.318" stop-color="#a1a1a1"/><stop offset="0.326" stop-color="#8b8b8b"/><stop offset="0.331" stop-color="#8b8b8b"/><stop offset="0.339" stop-color="#9e9e9e"/><stop offset="0.343" stop-color="#a4a4a4"/><stop offset="0.347" stop-color="#a1a1a1"/><stop offset="0.356" stop-color="#8a8a8a"/><stop offset="0.360" stop-color="#818181"/><stop offset="0.364" stop-color="#848484"/><stop offset="0.373" stop-color="#9a9a9a"/><stop offset="0.377" stop-color="#9f9f9f"/><stop offset="0.381" stop-color="#9c9c9c"/><stop offset="0.390" stop-color="#828282"/><stop offset="0.394" stop-color="#797979"/><stop offset="0.398" stop-color="#7a7a7a"/><stop offset="0.407" stop-color="#8d8d8d"/><stop offset="0.411" stop-color="#919191"/><stop offset="0.415" stop-color="#8f8f8f"/><stop offset="0.432" stop-color="#737373"/><stop offset="0.441" stop-color="#737373"/><stop offset="0.462" stop-color="#959595"/><stop offset="0.470" stop-color="#999999"/><stop offset="0.483" stop-color="#939393"/><stop offset="0.508" stop-color="#6f6f6f"/><stop offset="0.517" stop-color="#6a6a6a"/><stop offset="0.525" stop-color="#6e6e6e"/><stop offset="0.551" stop-color="#8f8f8f"/><stop offset="0.559" stop-color="#929292"/><stop offset="0.572" stop-color="#7d7d7d"/><stop offset="0.593" stop-color="#4b4b4b"/><stop offset="0.619" stop-color="#1c1c1c"/><stop offset="0.627" stop-color="#151515"/><stop offset="0.636" stop-color="#181818"/><stop offset="0.644" stop-color="#262626"/><stop offset="0.674" stop-color="#747474"/><stop offset="0.686" stop-color="#8c8c8c"/><stop offset="0.703" stop-color="#9d9d9d"/><stop offset="0.775" stop-color="#a2a2a2"/><stop offset="0.856" stop-color="#a6a6a6"/><stop offset="0.911" stop-color="#bfbfbf"/><stop offset="1.000" stop-color="#d0d0d0"/></linearGradient><linearGradient id="g17" gradientUnits="userSpaceOnUse" x1="0" y1="279.2" x2="0" y2="397.2"><stop offset="0.000" stop-color="#e4e4e4"/><stop offset="0.153" stop-color="#d9d9d9"/><stop offset="0.199" stop-color="#cecece"/><stop offset="0.208" stop-color="#c8c8c8"/><stop offset="0.220" stop-color="#cdcdcd"/><stop offset="0.229" stop-color="#c5c5c5"/><stop offset="0.233" stop-color="#bfbfbf"/><stop offset="0.237" stop-color="#bebebe"/><stop offset="0.250" stop-color="#c9c9c9"/><stop offset="0.258" stop-color="#bfbfbf"/><stop offset="0.263" stop-color="#b8b8b8"/><stop offset="0.267" stop-color="#b6b6b6"/><stop offset="0.280" stop-color="#c4c4c4"/><stop offset="0.284" stop-color="#c2c2c2"/><stop offset="0.292" stop-color="#b2b2b2"/><stop offset="0.297" stop-color="#aeaeae"/><stop offset="0.301" stop-color="#b1b1b1"/><stop offset="0.309" stop-color="#bebebe"/><stop offset="0.314" stop-color="#bfbfbf"/><stop offset="0.326" stop-color="#a6a6a6"/><stop offset="0.331" stop-color="#a6a6a6"/><stop offset="0.343" stop-color="#bababa"/><stop offset="0.347" stop-color="#b8b8b8"/><stop offset="0.356" stop-color="#a4a4a4"/><stop offset="0.360" stop-color="#9d9d9d"/><stop offset="0.364" stop-color="#9e9e9e"/><stop offset="0.373" stop-color="#b1b1b1"/><stop offset="0.377" stop-color="#b5b5b5"/><stop offset="0.381" stop-color="#b2b2b2"/><stop offset="0.390" stop-color="#9b9b9b"/><stop offset="0.394" stop-color="#939393"/><stop offset="0.398" stop-color="#949494"/><stop offset="0.407" stop-color="#a4a4a4"/><stop offset="0.411" stop-color="#a7a7a7"/><stop offset="0.419" stop-color="#9f9f9f"/><stop offset="0.432" stop-color="#8b8b8b"/><stop offset="0.441" stop-color="#8a8a8a"/><stop offset="0.462" stop-color="#a4a4a4"/><stop offset="0.475" stop-color="#a6a6a6"/><stop offset="0.487" stop-color="#9b9b9b"/><stop offset="0.508" stop-color="#7e7e7e"/><stop offset="0.521" stop-color="#797979"/><stop offset="0.534" stop-color="#848484"/><stop offset="0.551" stop-color="#979797"/><stop offset="0.559" stop-color="#989898"/><stop offset="0.572" stop-color="#818181"/><stop offset="0.589" stop-color="#545454"/><stop offset="0.614" stop-color="#242424"/><stop offset="0.627" stop-color="#181818"/><stop offset="0.636" stop-color="#1b1b1b"/><stop offset="0.648" stop-color="#303030"/><stop offset="0.678" stop-color="#7a7a7a"/><stop offset="0.691" stop-color="#8f8f8f"/><stop offset="0.703" stop-color="#9b9b9b"/><stop offset="0.746" stop-color="#a1a1a1"/><stop offset="0.856" stop-color="#a6a6a6"/><stop offset="0.911" stop-color="#bfbfbf"/><stop offset="1.000" stop-color="#d0d0d0"/></linearGradient><linearGradient id="g18" gradientUnits="userSpaceOnUse" x1="0" y1="279.2" x2="0" y2="397.2"><stop offset="0.000" stop-color="#dedede"/><stop offset="0.140" stop-color="#cccccc"/><stop offset="0.161" stop-color="#c8c8c8"/><stop offset="0.169" stop-color="#c5c5c5"/><stop offset="0.178" stop-color="#bdbdbd"/><stop offset="0.191" stop-color="#c2c2c2"/><stop offset="0.195" stop-color="#c0c0c0"/><stop offset="0.203" stop-color="#b3b3b3"/><stop offset="0.208" stop-color="#b0b0b0"/><stop offset="0.220" stop-color="#bbbbbb"/><stop offset="0.225" stop-color="#b8b8b8"/><stop offset="0.233" stop-color="#a8a8a8"/><stop offset="0.237" stop-color="#a7a7a7"/><stop offset="0.250" stop-color="#b5b5b5"/><stop offset="0.254" stop-color="#b1b1b1"/><stop offset="0.263" stop-color="#9f9f9f"/><stop offset="0.267" stop-color="#9d9d9d"/><stop offset="0.280" stop-color="#afafaf"/><stop offset="0.284" stop-color="#acacac"/><stop offset="0.292" stop-color="#989898"/><stop offset="0.297" stop-color="#939393"/><stop offset="0.301" stop-color="#979797"/><stop offset="0.309" stop-color="#a8a8a8"/><stop offset="0.314" stop-color="#a9a9a9"/><stop offset="0.318" stop-color="#a1a1a1"/><stop offset="0.326" stop-color="#8b8b8b"/><stop offset="0.331" stop-color="#8b8b8b"/><stop offset="0.339" stop-color="#9e9e9e"/><stop offset="0.343" stop-color="#a4a4a4"/><stop offset="0.347" stop-color="#a1a1a1"/><stop offset="0.356" stop-color="#898989"/><stop offset="0.360" stop-color="#818181"/><stop offset="0.364" stop-color="#838383"/><stop offset="0.373" stop-color="#999999"/><stop offset="0.377" stop-color="#9e9e9e"/><stop offset="0.381" stop-color="#9a9a9a"/><stop offset="0.390" stop-color="#808080"/><stop offset="0.394" stop-color="#777777"/><stop offset="0.398" stop-color="#787878"/><stop offset="0.407" stop-color="#8b8b8b"/><stop offset="0.411" stop-color="#8f8f8f"/><stop offset="0.415" stop-color="#8c8c8c"/><stop offset="0.432" stop-color="#707070"/><stop offset="0.441" stop-color="#707070"/><stop offset="0.462" stop-color="#919191"/><stop offset="0.470" stop-color="#969696"/><stop offset="0.483" stop-color="#8f8f8f"/><stop offset="0.508" stop-color="#6b6b6b"/><stop offset="0.517" stop-color="#666666"/><stop offset="0.525" stop-color="#696969"/><stop offset="0.551" stop-color="#898989"/><stop offset="0.559" stop-color="#8b8b8b"/><stop offset="0.572" stop-color="#757575"/><stop offset="0.593" stop-color="#424242"/><stop offset="0.614" stop-color="#181818"/><stop offset="0.623" stop-color="#0e0e0e"/><stop offset="0.631" stop-color="#0d0d0d"/><stop offset="0.640" stop-color="#151515"/><stop offset="0.653" stop-color="#313131"/><stop offset="0.674" stop-color="#686868"/><stop offset="0.686" stop-color="#808080"/><stop offset="0.703" stop-color="#919191"/><stop offset="0.746" stop-color="#9a9a9a"/><stop offset="0.856" stop-color="#a6a6a6"/><stop offset="0.911" stop-color="#bfbfbf"/><stop offset="1.000" stop-color="#d0d0d0"/></linearGradient><linearGradient id="g19" gradientUnits="userSpaceOnUse" x1="0" y1="279.2" x2="0" y2="397.2"><stop offset="0.000" stop-color="#c8c8c8"/><stop offset="0.229" stop-color="#969696"/><stop offset="0.242" stop-color="#929292"/><stop offset="0.254" stop-color="#929292"/><stop offset="0.267" stop-color="#878787"/><stop offset="0.280" stop-color="#909090"/><stop offset="0.284" stop-color="#8f8f8f"/><stop offset="0.292" stop-color="#808080"/><stop offset="0.297" stop-color="#7c7c7c"/><stop offset="0.301" stop-color="#7f7f7f"/><stop offset="0.309" stop-color="#8c8c8c"/><stop offset="0.314" stop-color="#8d8d8d"/><stop offset="0.326" stop-color="#757575"/><stop offset="0.331" stop-color="#747474"/><stop offset="0.343" stop-color="#898989"/><stop offset="0.347" stop-color="#878787"/><stop offset="0.356" stop-color="#727272"/><stop offset="0.360" stop-color="#6b6b6b"/><stop offset="0.364" stop-color="#6d6d6d"/><stop offset="0.373" stop-color="#808080"/><stop offset="0.377" stop-color="#858585"/><stop offset="0.381" stop-color="#828282"/><stop offset="0.390" stop-color="#696969"/><stop offset="0.394" stop-color="#606060"/><stop offset="0.398" stop-color="#616161"/><stop offset="0.407" stop-color="#737373"/><stop offset="0.411" stop-color="#777777"/><stop offset="0.415" stop-color="#757575"/><stop offset="0.432" stop-color="#5a5a5a"/><stop offset="0.441" stop-color="#595959"/><stop offset="0.462" stop-color="#727272"/><stop offset="0.470" stop-color="#727272"/><stop offset="0.479" stop-color="#676767"/><stop offset="0.487" stop-color="#525252"/><stop offset="0.504" stop-color="#181818"/><stop offset="0.513" stop-color="#040404"/><stop offset="0.517" stop-color="#010101"/><stop offset="0.521" stop-color="#030303"/><stop offset="0.530" stop-color="#131313"/><stop offset="0.547" stop-color="#474747"/><stop offset="0.555" stop-color="#575757"/><stop offset="0.559" stop-color="#585858"/><stop offset="0.568" stop-color="#4a4a4a"/><stop offset="0.576" stop-color="#323232"/><stop offset="0.589" stop-color="#060606"/><stop offset="0.593" stop-color="#000000"/><stop offset="0.653" stop-color="#000000"/><stop offset="0.657" stop-color="#070707"/><stop offset="0.674" stop-color="#464646"/><stop offset="0.686" stop-color="#6a6a6a"/><stop offset="0.699" stop-color="#838383"/><stop offset="0.712" stop-color="#8e8e8e"/><stop offset="0.758" stop-color="#989898"/><stop offset="0.860" stop-color="#a8a8a8"/><stop offset="0.911" stop-color="#bfbfbf"/><stop offset="1.000" stop-color="#d0d0d0"/></linearGradient><linearGradient id="g20" gradientUnits="userSpaceOnUse" x1="0" y1="279.2" x2="0" y2="397.2"><stop offset="0.000" stop-color="#8b8b8b"/><stop offset="0.059" stop-color="#747474"/><stop offset="0.140" stop-color="#626262"/><stop offset="0.153" stop-color="#626262"/><stop offset="0.165" stop-color="#5a5a5a"/><stop offset="0.178" stop-color="#646464"/><stop offset="0.182" stop-color="#5f5f5f"/><stop offset="0.191" stop-color="#4f4f4f"/><stop offset="0.195" stop-color="#515151"/><stop offset="0.203" stop-color="#646464"/><stop offset="0.208" stop-color="#686868"/><stop offset="0.212" stop-color="#636363"/><stop offset="0.220" stop-color="#4a4a4a"/><stop offset="0.225" stop-color="#484848"/><stop offset="0.229" stop-color="#535353"/><stop offset="0.237" stop-color="#707070"/><stop offset="0.242" stop-color="#727272"/><stop offset="0.246" stop-color="#686868"/><stop offset="0.254" stop-color="#474747"/><stop offset="0.258" stop-color="#454545"/><stop offset="0.263" stop-color="#525252"/><stop offset="0.267" stop-color="#686868"/><stop offset="0.271" stop-color="#787878"/><stop offset="0.275" stop-color="#7c7c7c"/><stop offset="0.280" stop-color="#717171"/><stop offset="0.288" stop-color="#474747"/><stop offset="0.292" stop-color="#414141"/><stop offset="0.297" stop-color="#4e4e4e"/><stop offset="0.305" stop-color="#7c7c7c"/><stop offset="0.309" stop-color="#848484"/><stop offset="0.314" stop-color="#7c7c7c"/><stop offset="0.318" stop-color="#686868"/><stop offset="0.322" stop-color="#505050"/><stop offset="0.326" stop-color="#404040"/><stop offset="0.331" stop-color="#414141"/><stop offset="0.335" stop-color="#545454"/><stop offset="0.339" stop-color="#6f6f6f"/><stop offset="0.343" stop-color="#848484"/><stop offset="0.347" stop-color="#8c8c8c"/><stop offset="0.352" stop-color="#848484"/><stop offset="0.356" stop-color="#707070"/><stop offset="0.360" stop-color="#575757"/><stop offset="0.364" stop-color="#424242"/><stop offset="0.369" stop-color="#3d3d3d"/><stop offset="0.373" stop-color="#494949"/><stop offset="0.381" stop-color="#7b7b7b"/><stop offset="0.386" stop-color="#8b8b8b"/><stop offset="0.390" stop-color="#8c8c8c"/><stop offset="0.394" stop-color="#7f7f7f"/><stop offset="0.403" stop-color="#515151"/><stop offset="0.407" stop-color="#404040"/><stop offset="0.411" stop-color="#3e3e3e"/><stop offset="0.415" stop-color="#4b4b4b"/><stop offset="0.424" stop-color="#747474"/><stop offset="0.428" stop-color="#7f7f7f"/><stop offset="0.432" stop-color="#7d7d7d"/><stop offset="0.436" stop-color="#6f6f6f"/><stop offset="0.445" stop-color="#494949"/><stop offset="0.449" stop-color="#404040"/><stop offset="0.453" stop-color="#464646"/><stop offset="0.466" stop-color="#7a7a7a"/><stop offset="0.470" stop-color="#858585"/><stop offset="0.475" stop-color="#898989"/><stop offset="0.479" stop-color="#878787"/><stop offset="0.487" stop-color="#787878"/><stop offset="0.517" stop-color="#1d1d1d"/><stop offset="0.525" stop-color="#0f0f0f"/><stop offset="0.530" stop-color="#0e0e0e"/><stop offset="0.534" stop-color="#131313"/><stop offset="0.542" stop-color="#272727"/><stop offset="0.559" stop-color="#5b5b5b"/><stop offset="0.568" stop-color="#6d6d6d"/><stop offset="0.576" stop-color="#767676"/><stop offset="0.585" stop-color="#757575"/><stop offset="0.593" stop-color="#6c6c6c"/><stop offset="0.606" stop-color="#4e4e4e"/><stop offset="0.619" stop-color="#2a2a2a"/><stop offset="0.627" stop-color="#1d1d1d"/><stop offset="0.631" stop-color="#1c1c1c"/><stop offset="0.636" stop-color="#222222"/><stop offset="0.644" stop-color="#393939"/><stop offset="0.661" stop-color="#7d7d7d"/><stop offset="0.669" stop-color="#969696"/><stop offset="0.682" stop-color="#a9a9a9"/><stop offset="0.708" stop-color="#b6b6b6"/><stop offset="0.737" stop-color="#bebebe"/><stop offset="0.788" stop-color="#b2b2b2"/><stop offset="1.000" stop-color="#d4d4d4"/></linearGradient><filter id="blD" x="-5%" y="-5%" width="110%" height="110%"><feGaussianBlur stdDeviation="1.0 0.75"/></filter></defs>
<g filter="url(#blD)"><rect x="15.2" y="279.2" width="128" height="118.2" fill="#efefef"/><rect x="53" y="279.2" width="5" height="118.2" fill="#f6f6f6"/><rect x="121.5" y="279.2" width="5" height="118.2" fill="#f6f6f6"/><rect x="17.0" y="279.2" width="14.0" height="118.19999999999999" fill="url(#g15)"/><rect x="38.6" y="279.2" width="13.600000000000001" height="118.19999999999999" fill="url(#g16)"/><rect x="59.8" y="279.2" width="16.0" height="118.19999999999999" fill="url(#g17)"/><rect x="81.5" y="279.2" width="15.299999999999997" height="118.19999999999999" fill="url(#g18)"/><rect x="104.7" y="279.2" width="15.299999999999997" height="118.19999999999999" fill="url(#g19)"/><rect x="127.8" y="279.2" width="14.799999999999997" height="118.19999999999999" fill="url(#g20)"/><rect x="17.4" y="365.2" width="13.5" height="15.6" rx="4.5" ry="5" fill="#000" filter="url(#blob)"/><rect x="38.4" y="366.0" width="13.2" height="13.4" rx="4.5" ry="5" fill="#000" filter="url(#blob)"/><rect x="59.9" y="364.8" width="16.1" height="16.6" rx="4.5" ry="5" fill="#000" filter="url(#blob)"/><rect x="82.9" y="365.6" width="14.5" height="13.6" rx="4.5" ry="5" fill="#000" filter="url(#blob)"/><rect x="105.8" y="367.0" width="14.4" height="11.4" rx="4.5" ry="5" fill="#000" filter="url(#blob)"/></g>
<text x="1.6" y="11.1" font-size="13.6" text-anchor="start" fill="#111" >A</text>
<line x1="31" y1="22.5" x2="175.0" y2="22.5" stroke="#111" stroke-width="1.1" />
<line x1="174.4" y1="22.5" x2="174.4" y2="185" stroke="#111" stroke-width="1.2" />
<line x1="30.8" y1="22.5" x2="30.8" y2="186" stroke="#444" stroke-width="1.6" />
<line x1="29" y1="185" x2="174.4" y2="185" stroke="#111" stroke-width="1.6" />
<line x1="28" y1="39.7" x2="31" y2="39.7" stroke="#333" stroke-width="1.2" />
<text x="27.2" y="42.7" font-size="8.4" text-anchor="end" fill="#111" >5.0</text>
<line x1="28" y1="68.7" x2="31" y2="68.7" stroke="#333" stroke-width="1.2" />
<text x="27.2" y="71.7" font-size="8.4" text-anchor="end" fill="#111" >4.0</text>
<line x1="28" y1="95.8" x2="31" y2="95.8" stroke="#333" stroke-width="1.2" />
<text x="27.2" y="98.8" font-size="8.4" text-anchor="end" fill="#111" >3.0</text>
<line x1="28" y1="123.6" x2="31" y2="123.6" stroke="#333" stroke-width="1.2" />
<text x="27.2" y="126.6" font-size="8.4" text-anchor="end" fill="#111" >2.0</text>
<line x1="28" y1="153.6" x2="31" y2="153.6" stroke="#333" stroke-width="1.2" />
<text x="27.2" y="156.6" font-size="8.4" text-anchor="end" fill="#111" >1.0</text>
<line x1="28" y1="185" x2="31" y2="185" stroke="#333" stroke-width="1.2" />
<text x="27.2" y="188" font-size="8.4" text-anchor="end" fill="#111" >0.0</text>
<line x1="31.0" y1="185" x2="31.0" y2="188" stroke="#111" stroke-width="1.2" />
<text x="31.0" y="196.2" font-size="9.2" text-anchor="middle" fill="#111" >0</text>
<line x1="63.225" y1="185" x2="63.225" y2="188" stroke="#111" stroke-width="1.2" />
<text x="63.225" y="196.2" font-size="9.2" text-anchor="middle" fill="#111" >50</text>
<line x1="95.45" y1="185" x2="95.45" y2="188" stroke="#111" stroke-width="1.2" />
<text x="95.45" y="196.2" font-size="9.2" text-anchor="middle" fill="#111" >100</text>
<line x1="127.675" y1="185" x2="127.675" y2="188" stroke="#111" stroke-width="1.2" />
<text x="127.675" y="196.2" font-size="9.2" text-anchor="middle" fill="#111" >150</text>
<line x1="159.9" y1="185" x2="159.9" y2="188" stroke="#111" stroke-width="1.2" />
<text x="159.9" y="196.2" font-size="9.2" text-anchor="middle" fill="#111" >200</text>
<text x="98.6" y="210.5" font-size="8.9" text-anchor="middle" fill="#111" textLength="99.7" lengthAdjust="spacingAndGlyphs" >[Synthetic Petides] (µM)</text>
<text transform="translate(8.36,174.40) rotate(-90)" font-size="7.4" text-anchor="start" fill="#111" textLength="136.4" lengthAdjust="spacingAndGlyphs">Rate of Fluorescent Generation (U/Sec)</text>
<text x="156.6" y="38.0" font-size="12.4" text-anchor="middle" fill="#111" textLength="21.9" lengthAdjust="spacingAndGlyphs" >N=3</text>
<line x1="31" y1="22.5" x2="31" y2="66" stroke="#e3141c" stroke-width="1.6" />
<line x1="95.45" y1="82" x2="95.45" y2="127" stroke="#f4a43c" stroke-width="1.1" />
<line x1="93.85000000000001" y1="82" x2="97.05" y2="82" stroke="#f4a43c" stroke-width="1.1" />
<line x1="93.85000000000001" y1="127" x2="97.05" y2="127" stroke="#f4a43c" stroke-width="1.1" />
<line x1="159.9" y1="134.7" x2="159.9" y2="166" stroke="#f4a43c" stroke-width="1.1" />
<line x1="158.3" y1="134.7" x2="161.5" y2="134.7" stroke="#f4a43c" stroke-width="1.1" />
<line x1="158.3" y1="166" x2="161.5" y2="166" stroke="#f4a43c" stroke-width="1.1" />
<line x1="47.1125" y1="56" x2="47.1125" y2="70" stroke="#f4a43c" stroke-width="1.1" />
<line x1="45.512499999999996" y1="56" x2="48.7125" y2="56" stroke="#f4a43c" stroke-width="1.1" />
<line x1="45.512499999999996" y1="70" x2="48.7125" y2="70" stroke="#f4a43c" stroke-width="1.1" />
<line x1="63.225" y1="64" x2="63.225" y2="84" stroke="#f4a43c" stroke-width="1.1" />
<line x1="61.625" y1="64" x2="64.825" y2="64" stroke="#f4a43c" stroke-width="1.1" />
<line x1="61.625" y1="84" x2="64.825" y2="84" stroke="#f4a43c" stroke-width="1.1" />
<line x1="35.028125" y1="40" x2="35.028125" y2="77" stroke="#7d7a12" stroke-width="1.1" />
<line x1="33.428125" y1="40" x2="36.628125000000004" y2="40" stroke="#7d7a12" stroke-width="1.1" />
<line x1="33.428125" y1="77" x2="36.628125000000004" y2="77" stroke="#7d7a12" stroke-width="1.1" />
<line x1="39.05625" y1="42" x2="39.05625" y2="76" stroke="#7d7a12" stroke-width="1.1" />
<line x1="37.45625" y1="42" x2="40.65625" y2="42" stroke="#7d7a12" stroke-width="1.1" />
<line x1="37.45625" y1="76" x2="40.65625" y2="76" stroke="#7d7a12" stroke-width="1.1" />
<line x1="47.1125" y1="50" x2="47.1125" y2="68" stroke="#7d7a12" stroke-width="1.1" />
<line x1="45.512499999999996" y1="50" x2="48.7125" y2="50" stroke="#7d7a12" stroke-width="1.1" />
<line x1="45.512499999999996" y1="68" x2="48.7125" y2="68" stroke="#7d7a12" stroke-width="1.1" />
<line x1="95.45" y1="66" x2="95.45" y2="90" stroke="#7d7a12" stroke-width="1.1" />
<line x1="93.85000000000001" y1="66" x2="97.05" y2="66" stroke="#7d7a12" stroke-width="1.1" />
<line x1="93.85000000000001" y1="90" x2="97.05" y2="90" stroke="#7d7a12" stroke-width="1.1" />
<line x1="159.9" y1="92" x2="159.9" y2="111" stroke="#7d7a12" stroke-width="1.1" />
<line x1="158.3" y1="92" x2="161.5" y2="92" stroke="#7d7a12" stroke-width="1.1" />
<line x1="158.3" y1="111" x2="161.5" y2="111" stroke="#7d7a12" stroke-width="1.1" />
<line x1="95.45" y1="42" x2="95.45" y2="80" stroke="#000000" stroke-width="1.1" />
<line x1="93.85000000000001" y1="42" x2="97.05" y2="42" stroke="#000000" stroke-width="1.1" />
<line x1="93.85000000000001" y1="80" x2="97.05" y2="80" stroke="#000000" stroke-width="1.1" />
<line x1="159.9" y1="58.3" x2="159.9" y2="118" stroke="#000000" stroke-width="1.1" />
<line x1="158.3" y1="58.3" x2="161.5" y2="58.3" stroke="#000000" stroke-width="1.1" />
<line x1="158.3" y1="118" x2="161.5" y2="118" stroke="#000000" stroke-width="1.1" />
<line x1="35.028125" y1="32.7" x2="35.028125" y2="71" stroke="#1a98a2" stroke-width="1.1" />
<line x1="33.428125" y1="32.7" x2="36.628125000000004" y2="32.7" stroke="#1a98a2" stroke-width="1.1" />
<line x1="33.428125" y1="71" x2="36.628125000000004" y2="71" stroke="#1a98a2" stroke-width="1.1" />
<line x1="39.05625" y1="34" x2="39.05625" y2="77.6" stroke="#1a98a2" stroke-width="1.1" />
<line x1="37.45625" y1="34" x2="40.65625" y2="34" stroke="#1a98a2" stroke-width="1.1" />
<line x1="37.45625" y1="77.6" x2="40.65625" y2="77.6" stroke="#1a98a2" stroke-width="1.1" />
<line x1="47.1125" y1="33.7" x2="47.1125" y2="67" stroke="#1a98a2" stroke-width="1.1" />
<line x1="45.512499999999996" y1="33.7" x2="48.7125" y2="33.7" stroke="#1a98a2" stroke-width="1.1" />
<line x1="45.512499999999996" y1="67" x2="48.7125" y2="67" stroke="#1a98a2" stroke-width="1.1" />
<line x1="63.225" y1="38.7" x2="63.225" y2="95" stroke="#1a98a2" stroke-width="1.1" />
<line x1="61.625" y1="38.7" x2="64.825" y2="38.7" stroke="#1a98a2" stroke-width="1.1" />
<line x1="61.625" y1="95" x2="64.825" y2="95" stroke="#1a98a2" stroke-width="1.1" />
<line x1="95.45" y1="42" x2="95.45" y2="98.5" stroke="#1a98a2" stroke-width="1.1" />
<line x1="93.85000000000001" y1="42" x2="97.05" y2="42" stroke="#1a98a2" stroke-width="1.1" />
<line x1="93.85000000000001" y1="98.5" x2="97.05" y2="98.5" stroke="#1a98a2" stroke-width="1.1" />
<line x1="159.9" y1="90" x2="159.9" y2="119.3" stroke="#1a98a2" stroke-width="1.1" />
<line x1="158.3" y1="90" x2="161.5" y2="90" stroke="#1a98a2" stroke-width="1.1" />
<line x1="158.3" y1="119.3" x2="161.5" y2="119.3" stroke="#1a98a2" stroke-width="1.1" />
<line x1="47.1125" y1="67" x2="47.1125" y2="82" stroke="#e3141c" stroke-width="1.1" />
<line x1="45.512499999999996" y1="67" x2="48.7125" y2="67" stroke="#e3141c" stroke-width="1.1" />
<line x1="45.512499999999996" y1="82" x2="48.7125" y2="82" stroke="#e3141c" stroke-width="1.1" />
<line x1="63.225" y1="91" x2="63.225" y2="108.8" stroke="#e3141c" stroke-width="1.1" />
<line x1="61.625" y1="91" x2="64.825" y2="91" stroke="#e3141c" stroke-width="1.1" />
<line x1="61.625" y1="108.8" x2="64.825" y2="108.8" stroke="#e3141c" stroke-width="1.1" />
<line x1="95.45" y1="129.4" x2="95.45" y2="148.4" stroke="#e3141c" stroke-width="1.1" />
<line x1="93.85000000000001" y1="129.4" x2="97.05" y2="129.4" stroke="#e3141c" stroke-width="1.1" />
<line x1="93.85000000000001" y1="148.4" x2="97.05" y2="148.4" stroke="#e3141c" stroke-width="1.1" />
<line x1="159.9" y1="165.2" x2="159.9" y2="181.6" stroke="#e3141c" stroke-width="1.1" />
<line x1="158.3" y1="165.2" x2="161.5" y2="165.2" stroke="#e3141c" stroke-width="1.1" />
<line x1="158.3" y1="181.6" x2="161.5" y2="181.6" stroke="#e3141c" stroke-width="1.1" />
<polyline points="31.00,54.00 35.03,55.00 39.06,56.00 47.11,61.50 63.23,74.00 95.45,104.60 159.90,150.50" fill="none" stroke="#f4a43c" stroke-width="2.3" stroke-linejoin="round" />
<path d="M28.70,51.70L33.30,56.30M33.30,51.70L28.70,56.30" stroke="#f4a43c" stroke-width="1.4"/>
<path d="M32.73,52.70L37.33,57.30M37.33,52.70L32.73,57.30" stroke="#f4a43c" stroke-width="1.4"/>
<path d="M36.76,53.70L41.36,58.30M41.36,53.70L36.76,58.30" stroke="#f4a43c" stroke-width="1.4"/>
<path d="M44.81,59.20L49.41,63.80M49.41,59.20L44.81,63.80" stroke="#f4a43c" stroke-width="1.4"/>
<path d="M60.93,71.70L65.53,76.30M65.53,71.70L60.93,76.30" stroke="#f4a43c" stroke-width="1.4"/>
<path d="M93.15,102.30L97.75,106.90M97.75,102.30L93.15,106.90" stroke="#f4a43c" stroke-width="1.4"/>
<path d="M157.60,148.20L162.20,152.80M162.20,148.20L157.60,152.80" stroke="#f4a43c" stroke-width="1.4"/>
<polyline points="31.00,52.00 35.03,54.00 39.06,55.50 47.11,58.50 63.23,66.00 95.45,77.20 159.90,101.00" fill="none" stroke="#7d7a12" stroke-width="2.3" stroke-linejoin="round" />
<polygon points="31.00,49.20 28.20,54.00 33.80,54.00" fill="#7d7a12"/>
<polygon points="35.03,51.20 32.23,56.00 37.83,56.00" fill="#7d7a12"/>
<polygon points="39.06,52.70 36.26,57.50 41.86,57.50" fill="#7d7a12"/>
<polygon points="47.11,55.70 44.31,60.50 49.91,60.50" fill="#7d7a12"/>
<polygon points="63.23,63.20 60.43,68.00 66.03,68.00" fill="#7d7a12"/>
<polygon points="95.45,74.40 92.65,79.20 98.25,79.20" fill="#7d7a12"/>
<polygon points="159.90,98.20 157.10,103.00 162.70,103.00" fill="#7d7a12"/>
<polyline points="31.00,44.00 35.03,45.80 39.06,47.80 47.11,49.00 63.23,52.30 95.45,63.70 159.90,81.00" fill="none" stroke="#000000" stroke-width="2.3" stroke-linejoin="round" />
<circle cx="31.00" cy="44.00" r="2.6" fill="#000000"/>
<circle cx="35.03" cy="45.80" r="2.6" fill="#000000"/>
<circle cx="39.06" cy="47.80" r="2.6" fill="#000000"/>
<circle cx="47.11" cy="49.00" r="2.6" fill="#000000"/>
<circle cx="63.23" cy="52.30" r="2.6" fill="#000000"/>
<circle cx="95.45" cy="63.70" r="2.6" fill="#000000"/>
<circle cx="159.90" cy="81.00" r="2.6" fill="#000000"/>
<polyline points="31.00,42.50 35.03,48.00 39.06,50.50 47.11,51.50 63.23,61.00 95.45,71.50 159.90,105.50" fill="none" stroke="#1a98a2" stroke-width="2.3" stroke-linejoin="round" />
<rect x="28.20" y="39.70" width="5.6" height="5.6" fill="#1a98a2"/>
<rect x="32.23" y="45.20" width="5.6" height="5.6" fill="#1a98a2"/>
<rect x="36.26" y="47.70" width="5.6" height="5.6" fill="#1a98a2"/>
<rect x="44.31" y="48.70" width="5.6" height="5.6" fill="#1a98a2"/>
<rect x="60.43" y="58.20" width="5.6" height="5.6" fill="#1a98a2"/>
<rect x="92.65" y="68.70" width="5.6" height="5.6" fill="#1a98a2"/>
<rect x="157.10" y="102.70" width="5.6" height="5.6" fill="#1a98a2"/>
<path d="M35.03,55.50 C35.70,55.83 37.04,54.33 39.06,57.50 C41.07,60.67 43.08,67.43 47.11,74.50 C51.14,81.57 55.17,89.25 63.23,99.90 C71.28,110.55 79.34,126.12 95.45,138.40 C111.56,150.68 149.16,167.73 159.90,173.60" fill="none" stroke="#e3141c" stroke-width="2.3"/>
<circle cx="39.06" cy="57.50" r="2.4" fill="#e3141c"/>
<circle cx="47.11" cy="74.50" r="2.4" fill="#e3141c"/>
<circle cx="63.23" cy="99.90" r="2.4" fill="#e3141c"/>
<circle cx="95.45" cy="138.40" r="2.4" fill="#e3141c"/>
<circle cx="159.90" cy="173.60" r="2.4" fill="#e3141c"/>
<line x1="36.2" y1="139.4" x2="46.2" y2="139.4" stroke="#000000" stroke-width="1.3" />
<circle cx="41.2" cy="139.4" r="1.9" fill="#000000"/>
<text x="49" y="141.70000000000002" font-size="6.3" text-anchor="start" fill="#111" textLength="14" lengthAdjust="spacingAndGlyphs" >GEE</text>
<line x1="36.2" y1="149" x2="46.2" y2="149" stroke="#4aaed0" stroke-width="1.3" />
<rect x="39.4" y="147.3" width="3.5" height="3.5" fill="#4aaed0"/>
<text x="49" y="151.3" font-size="6.3" text-anchor="start" fill="#111" textLength="26.7" lengthAdjust="spacingAndGlyphs" >EYREGR</text>
<line x1="36.2" y1="158.6" x2="46.2" y2="158.6" stroke="#7d7a12" stroke-width="1.3" />
<polygon points="41.20,156.40 39.10,160.10 43.30,160.10" fill="#7d7a12"/>
<text x="49" y="160.9" font-size="6.3" text-anchor="start" fill="#111" textLength="14.5" lengthAdjust="spacingAndGlyphs" >RYR</text>
<line x1="36.2" y1="167.7" x2="46.2" y2="167.7" stroke="#f4a43c" stroke-width="1.3" />
<path d="M39.5,166.0L42.9,169.39999999999998M42.9,166.0L39.5,169.39999999999998" stroke="#f4a43c" stroke-width="1"/>
<text x="49" y="170.0" font-size="6.3" text-anchor="start" fill="#111" textLength="26.5" lengthAdjust="spacingAndGlyphs" >RRYGEE</text>
<line x1="36.2" y1="176.3" x2="46.2" y2="176.3" stroke="#e3141c" stroke-width="1.3" />
<circle cx="41.2" cy="176.3" r="1.8" fill="#e3141c"/>
<text x="49" y="178.60000000000002" font-size="6.3" text-anchor="start" fill="#111" textLength="14" lengthAdjust="spacingAndGlyphs" >RRY</text>
<text x="191.3" y="235.2" font-size="14" text-anchor="start" fill="#111" >E</text>
<line x1="226.7" y1="237.4" x2="377.4" y2="237.4" stroke="#111" stroke-width="1.2" />
<line x1="377.4" y1="237.4" x2="377.4" y2="396.2" stroke="#111" stroke-width="1.2" />
<line x1="226.7" y1="237.4" x2="226.7" y2="396.2" stroke="#111" stroke-width="1.3" />
<line x1="226.7" y1="396.2" x2="377.4" y2="396.2" stroke="#111" stroke-width="1.3" />
<line x1="223.7" y1="396.34000000000003" x2="226.7" y2="396.34000000000003" stroke="#111" stroke-width="1.1" />
<text x="222" y="396.94000000000005" font-size="10" text-anchor="end" fill="#111" textLength="13.6" lengthAdjust="spacingAndGlyphs" >0.0</text>
<line x1="223.7" y1="373.62" x2="226.7" y2="373.62" stroke="#111" stroke-width="1.1" />
<text x="222" y="377.22" font-size="10" text-anchor="end" fill="#111" textLength="13.6" lengthAdjust="spacingAndGlyphs" >0.2</text>
<line x1="223.7" y1="350.9" x2="226.7" y2="350.9" stroke="#111" stroke-width="1.1" />
<text x="222" y="354.5" font-size="10" text-anchor="end" fill="#111" textLength="13.6" lengthAdjust="spacingAndGlyphs" >0.4</text>
<line x1="223.7" y1="328.18" x2="226.7" y2="328.18" stroke="#111" stroke-width="1.1" />
<text x="222" y="331.78000000000003" font-size="10" text-anchor="end" fill="#111" textLength="13.6" lengthAdjust="spacingAndGlyphs" >0.6</text>
<line x1="223.7" y1="305.46" x2="226.7" y2="305.46" stroke="#111" stroke-width="1.1" />
<text x="222" y="309.06" font-size="10" text-anchor="end" fill="#111" textLength="13.6" lengthAdjust="spacingAndGlyphs" >0.8</text>
<line x1="223.7" y1="282.74" x2="226.7" y2="282.74" stroke="#111" stroke-width="1.1" />
<text x="222" y="286.34000000000003" font-size="10" text-anchor="end" fill="#111" textLength="13.6" lengthAdjust="spacingAndGlyphs" >1.0</text>
<line x1="223.7" y1="260.02" x2="226.7" y2="260.02" stroke="#111" stroke-width="1.1" />
<text x="222" y="263.62" font-size="10" text-anchor="end" fill="#111" textLength="13.6" lengthAdjust="spacingAndGlyphs" >1.2</text>
<line x1="223.7" y1="237.29999999999998" x2="226.7" y2="237.29999999999998" stroke="#111" stroke-width="1.1" />
<text x="222" y="240.89999999999998" font-size="10" text-anchor="end" fill="#111" textLength="13.6" lengthAdjust="spacingAndGlyphs" >1.4</text>
<line x1="229.7" y1="396.2" x2="229.7" y2="399.2" stroke="#111" stroke-width="1.1" />
<text x="229.7" y="409.8" font-size="10" text-anchor="middle" fill="#111" >0</text>
<line x1="261.125" y1="396.2" x2="261.125" y2="399.2" stroke="#111" stroke-width="1.1" />
<text x="261.125" y="409.8" font-size="10" text-anchor="middle" fill="#111" >50</text>
<line x1="292.54999999999995" y1="396.2" x2="292.54999999999995" y2="399.2" stroke="#111" stroke-width="1.1" />
<text x="292.54999999999995" y="409.8" font-size="10" text-anchor="middle" fill="#111" >100</text>
<line x1="323.97499999999997" y1="396.2" x2="323.97499999999997" y2="399.2" stroke="#111" stroke-width="1.1" />
<text x="323.97499999999997" y="409.8" font-size="10" text-anchor="middle" fill="#111" >150</text>
<line x1="355.4" y1="396.2" x2="355.4" y2="399.2" stroke="#111" stroke-width="1.1" />
<text x="355.4" y="409.8" font-size="10" text-anchor="middle" fill="#111" >200</text>
<text x="269.9" y="424.6" font-size="10.25" text-anchor="start" fill="#111" textLength="70.8" lengthAdjust="spacingAndGlyphs" >[Peptides](µM)</text>
<text transform="translate(200.31,376.40) rotate(-90)" font-size="10.3" text-anchor="start" fill="#111" textLength="129.8" lengthAdjust="spacingAndGlyphs">Relative Cleavage Product</text>
<line x1="237.9" y1="264.7" x2="237.9" y2="317.3" stroke="#6fd86f" stroke-width="1.1" />
<line x1="236.1" y1="264.7" x2="239.70000000000002" y2="264.7" stroke="#6fd86f" stroke-width="1.1" />
<line x1="236.1" y1="317.3" x2="239.70000000000002" y2="317.3" stroke="#6fd86f" stroke-width="1.1" />
<line x1="237.9" y1="274.2" x2="237.9" y2="314" stroke="#e05a3a" stroke-width="1.1" />
<line x1="236.1" y1="274.2" x2="239.70000000000002" y2="274.2" stroke="#e05a3a" stroke-width="1.1" />
<line x1="236.1" y1="314" x2="239.70000000000002" y2="314" stroke="#e05a3a" stroke-width="1.1" />
<line x1="245.7" y1="277" x2="245.7" y2="343.6" stroke="#d84a3a" stroke-width="1.1" />
<line x1="243.89999999999998" y1="277" x2="247.5" y2="277" stroke="#d84a3a" stroke-width="1.1" />
<line x1="243.89999999999998" y1="343.6" x2="247.5" y2="343.6" stroke="#d84a3a" stroke-width="1.1" />
<line x1="261.4" y1="331.6" x2="261.4" y2="356.2" stroke="#d8703a" stroke-width="1.1" />
<line x1="259.59999999999997" y1="331.6" x2="263.2" y2="331.6" stroke="#d8703a" stroke-width="1.1" />
<line x1="259.59999999999997" y1="356.2" x2="263.2" y2="356.2" stroke="#d8703a" stroke-width="1.1" />
<line x1="292.8" y1="336.4" x2="292.8" y2="355.4" stroke="#44dd44" stroke-width="1.1" />
<line x1="291.0" y1="336.4" x2="294.6" y2="336.4" stroke="#44dd44" stroke-width="1.1" />
<line x1="291.0" y1="355.4" x2="294.6" y2="355.4" stroke="#44dd44" stroke-width="1.1" />
<line x1="355.5" y1="352.5" x2="355.5" y2="375.1" stroke="#e04a3a" stroke-width="1.1" />
<line x1="353.7" y1="352.5" x2="357.3" y2="352.5" stroke="#e04a3a" stroke-width="1.1" />
<line x1="353.7" y1="375.1" x2="357.3" y2="375.1" stroke="#e04a3a" stroke-width="1.1" />
<line x1="237.9" y1="280.5" x2="237.9" y2="305" stroke="#5050b0" stroke-width="1.1" />
<line x1="236.1" y1="280.5" x2="239.70000000000002" y2="280.5" stroke="#5050b0" stroke-width="1.1" />
<line x1="236.1" y1="305" x2="239.70000000000002" y2="305" stroke="#5050b0" stroke-width="1.1" />
<polyline points="229.00,281.50 237.90,291.00 245.70,299.50 261.40,344.00 292.80,345.50 355.50,363.60" fill="none" stroke="#22dd22" stroke-width="2.2" stroke-linejoin="round" />
<polyline points="229.00,281.50 237.90,293.00 245.70,311.00 261.40,343.70 292.50,361.30 355.50,364.00" fill="none" stroke="#e23a3a" stroke-width="2.2" stroke-linejoin="round" stroke-dasharray="5.5,3.5"/>
<line x1="245.7" y1="256.3" x2="245.7" y2="285" stroke="#1a1aa8" stroke-width="1.2" />
<line x1="243.89999999999998" y1="256.3" x2="247.5" y2="256.3" stroke="#1a1aa8" stroke-width="1.2" />
<line x1="243.89999999999998" y1="285" x2="247.5" y2="285" stroke="#1a1aa8" stroke-width="1.2" />
<line x1="261.4" y1="266.4" x2="261.4" y2="274.8" stroke="#1a1aa8" stroke-width="1.2" />
<line x1="259.59999999999997" y1="266.4" x2="263.2" y2="266.4" stroke="#1a1aa8" stroke-width="1.2" />
<line x1="259.59999999999997" y1="274.8" x2="263.2" y2="274.8" stroke="#1a1aa8" stroke-width="1.2" />
<line x1="355.5" y1="276.2" x2="355.5" y2="295.2" stroke="#1a1aa8" stroke-width="1.2" />
<line x1="353.7" y1="276.2" x2="357.3" y2="276.2" stroke="#1a1aa8" stroke-width="1.2" />
<line x1="353.7" y1="295.2" x2="357.3" y2="295.2" stroke="#1a1aa8" stroke-width="1.2" />
<polyline points="229.00,281.50 237.90,289.50 245.70,271.00 261.40,270.30 355.50,286.00" fill="none" stroke="#1414aa" stroke-width="2.4" stroke-linejoin="round" />
<circle cx="229" cy="281.5" r="2" fill="#1414aa"/>
<circle cx="237.9" cy="289.5" r="2" fill="#1414aa"/>
<circle cx="245.7" cy="271" r="2" fill="#1414aa"/>
<circle cx="261.4" cy="270.3" r="2" fill="#1414aa"/>
<circle cx="355.5" cy="286" r="2" fill="#1414aa"/>
<circle cx="261.4" cy="343.7" r="1.8" fill="#e23a3a"/>
<circle cx="292.5" cy="361.3" r="1.8" fill="#e23a3a"/>
<circle cx="355.5" cy="364" r="1.8" fill="#e23a3a"/>
<text x="339" y="272.4" font-size="10.2" text-anchor="middle" fill="#111" textLength="17.8" lengthAdjust="spacingAndGlyphs" >GEE</text>
<polygon points="337.40,274.60 342.60,274.60 340.50,281.00" fill="#000"/>
<text x="301.2" y="337.8" font-size="9.5" text-anchor="start" fill="#111" textLength="35.8" lengthAdjust="spacingAndGlyphs" >RRYGEE</text>
<polygon points="294.00,343.60 296.60,335.60 301.40,339.60" fill="#000"/>
<text x="279.2" y="382.2" font-size="9.5" text-anchor="start" fill="#111" textLength="17.6" lengthAdjust="spacingAndGlyphs" >RRY</text>
<polygon points="291.40,365.40 285.80,369.40 290.20,372.20" fill="#000"/>
<rect x="358.2" y="368.8" width="4.2" height="4" fill="#111"/>
<polygon points="361.60,375.00 359.20,382.20 364.40,382.20" fill="#000"/>
<text x="362.1" y="391.2" font-size="9" text-anchor="middle" fill="#111" textLength="22.1" lengthAdjust="spacingAndGlyphs" >EDTA</text>
<text x="194.1" y="11.3" font-size="13.6" text-anchor="start" fill="#111" >B</text>
<text x="219.6" y="30.6" font-size="13" text-anchor="start" fill="#111" textLength="77.4" lengthAdjust="spacingAndGlyphs" >RRYGEE(µM)</text>
<line x1="199.7" y1="34.5" x2="312.9" y2="34.5" stroke="#333" stroke-width="1.4" />
<text transform="translate(206.70,59.10) rotate(-90)" font-size="10" text-anchor="start" fill="#111">0</text>
<text transform="translate(226.90,59.10) rotate(-90)" font-size="10" text-anchor="start" fill="#111" textLength="19.3" lengthAdjust="spacingAndGlyphs">12.5</text>
<text transform="translate(245.60,59.10) rotate(-90)" font-size="10" text-anchor="start" fill="#111">25</text>
<text transform="translate(264.70,59.10) rotate(-90)" font-size="10" text-anchor="start" fill="#111">50</text>
<text transform="translate(284.90,59.10) rotate(-90)" font-size="10" text-anchor="start" fill="#111">100</text>
<text transform="translate(304.10,59.10) rotate(-90)" font-size="10" text-anchor="start" fill="#111">200</text>
<text transform="translate(323.30,59.10) rotate(-90)" font-size="10" text-anchor="start" fill="#111" textLength="26.1" lengthAdjust="spacingAndGlyphs">EDTA</text>
<text x="204.8" y="195.6" font-size="12" text-anchor="middle" fill="#111" >1</text>
<text x="223.7" y="195.6" font-size="12" text-anchor="middle" fill="#111" >2</text>
<text x="245.2" y="195.6" font-size="12" text-anchor="middle" fill="#111" >3</text>
<text x="262.2" y="195.6" font-size="12" text-anchor="middle" fill="#111" >4</text>
<text x="283.7" y="195.6" font-size="12" text-anchor="middle" fill="#111" >5</text>
<text x="301.7" y="195.6" font-size="12" text-anchor="middle" fill="#111" >6</text>
<text x="319.2" y="195.6" font-size="12" text-anchor="middle" fill="#111" >7</text>
<polyline points="327.8,69 334.5,69 334.5,130.5 327.8,130.5" fill="none" stroke="#222" stroke-width="1.3"/>
<text transform="translate(345.92,98.25) rotate(-90)" font-size="12" text-anchor="middle" fill="#111" textLength="30" lengthAdjust="spacingAndGlyphs">HMW</text>
<polygon points="328.00,156.50 339.00,152.40 339.00,160.60" fill="#000"/>
<text x="355.8" y="11.5" font-size="13.6" text-anchor="start" fill="#111" >C</text>
<text x="401.9" y="29.1" font-size="12.4" text-anchor="start" fill="#111" textLength="50.9" lengthAdjust="spacingAndGlyphs" >RRY (µM)</text>
<line x1="368.2" y1="35.5" x2="479.3" y2="35.5" stroke="#333" stroke-width="1.4" />
<text transform="translate(374.50,58.00) rotate(-90)" font-size="10" text-anchor="start" fill="#111">0</text>
<text transform="translate(393.40,58.00) rotate(-90)" font-size="10" text-anchor="start" fill="#111" textLength="19.6" lengthAdjust="spacingAndGlyphs">12.5</text>
<text transform="translate(413.00,58.00) rotate(-90)" font-size="10" text-anchor="start" fill="#111">25</text>
<text transform="translate(432.80,58.00) rotate(-90)" font-size="10" text-anchor="start" fill="#111">50</text>
<text transform="translate(453.80,58.00) rotate(-90)" font-size="10" text-anchor="start" fill="#111">100</text>
<text transform="translate(474.10,58.00) rotate(-90)" font-size="10" text-anchor="start" fill="#111">200</text>
<text transform="translate(495.60,58.00) rotate(-90)" font-size="10" text-anchor="start" fill="#111" textLength="25.6" lengthAdjust="spacingAndGlyphs">EDTA</text>
<text x="371.4" y="195.2" font-size="12" text-anchor="middle" fill="#111" >1</text>
<text x="390.5" y="195.2" font-size="12" text-anchor="middle" fill="#111" >2</text>
<text x="409.2" y="195.2" font-size="12" text-anchor="middle" fill="#111" >3</text>
<text x="430" y="195.2" font-size="12" text-anchor="middle" fill="#111" >4</text>
<text x="449.8" y="195.2" font-size="12" text-anchor="middle" fill="#111" >5</text>
<text x="471.6" y="195.2" font-size="12" text-anchor="middle" fill="#111" >6</text>
<text x="491.4" y="195.2" font-size="12" text-anchor="middle" fill="#111" >7</text>
<polyline points="500.5,71 506.5,71 506.5,123.2 500.5,123.2" fill="none" stroke="#222" stroke-width="1.3"/>
<text transform="translate(517.96,98.40) rotate(-90)" font-size="11" text-anchor="middle" fill="#111" textLength="27.5" lengthAdjust="spacingAndGlyphs">HMW</text>
<polygon points="501.30,156.60 510.90,153.10 510.90,160.20" fill="#000"/>
<text x="0.7" y="234.3" font-size="13.6" text-anchor="start" fill="#111" >D</text>
<text x="47.6" y="250" font-size="12.6" text-anchor="start" fill="#111" textLength="52" lengthAdjust="spacingAndGlyphs" >GEE (µM)</text>
<line x1="16.6" y1="254.3" x2="121.7" y2="254.3" stroke="#333" stroke-width="1.4" />
<text transform="translate(28.00,276.60) rotate(-90)" font-size="10" text-anchor="start" fill="#111">0</text>
<text transform="translate(46.90,276.60) rotate(-90)" font-size="10" text-anchor="start" fill="#111" textLength="19.6" lengthAdjust="spacingAndGlyphs">12.5</text>
<text transform="translate(70.90,276.60) rotate(-90)" font-size="10" text-anchor="start" fill="#111">25</text>
<text transform="translate(94.90,276.60) rotate(-90)" font-size="10" text-anchor="start" fill="#111">50</text>
<text transform="translate(115.90,276.60) rotate(-90)" font-size="10" text-anchor="start" fill="#111">200</text>
<text transform="translate(138.10,276.60) rotate(-90)" font-size="10" text-anchor="start" fill="#111" textLength="25.7" lengthAdjust="spacingAndGlyphs">EDTA</text>
<text x="23" y="409.2" font-size="12" text-anchor="middle" fill="#111" >1</text>
<text x="46.2" y="409.2" font-size="12" text-anchor="middle" fill="#111" >2</text>
<text x="68.2" y="409.2" font-size="12" text-anchor="middle" fill="#111" >3</text>
<text x="90.9" y="409.2" font-size="12" text-anchor="middle" fill="#111" >4</text>
<text x="113.4" y="409.2" font-size="12" text-anchor="middle" fill="#111" >5</text>
<text x="135.8" y="409.2" font-size="12" text-anchor="middle" fill="#111" >6</text>
<polyline points="146,288.3 151.4,288.3 151.4,342 146,342" fill="none" stroke="#222" stroke-width="1.3"/>
<text transform="translate(162.65,315.20) rotate(-90)" font-size="11.8" text-anchor="middle" fill="#111" textLength="29.5" lengthAdjust="spacingAndGlyphs">HMW</text>
<polygon points="147.00,374.20 157.70,370.00 157.70,378.40" fill="#000"/>
<line x1="193.6" y1="146.3" x2="326" y2="146.3" stroke="#3a3a3a" stroke-width="1.0" stroke-dasharray="3.5,4.70" stroke-dashoffset="7.60"/>
<line x1="193.6" y1="171.4" x2="326" y2="171.4" stroke="#3a3a3a" stroke-width="1.0" stroke-dasharray="3.5,4.70" stroke-dashoffset="1.00"/>
<line x1="193.6" y1="146.3" x2="193.6" y2="171.4" stroke="#3a3a3a" stroke-width="1.0" stroke-dasharray="3.5,4.70" stroke-dashoffset="2.00"/>
<line x1="326" y1="146.3" x2="326" y2="171.4" stroke="#3a3a3a" stroke-width="1.0" stroke-dasharray="3.5,4.70" stroke-dashoffset="0.30"/>
<line x1="362.5" y1="143.6" x2="499.4" y2="143.6" stroke="#3a3a3a" stroke-width="1.0" stroke-dasharray="3.5,4.70" stroke-dashoffset="7.60"/>
<line x1="362.5" y1="166.3" x2="499.4" y2="166.3" stroke="#3a3a3a" stroke-width="1.0" stroke-dasharray="3.5,4.70" stroke-dashoffset="2.10"/>
<line x1="362.5" y1="143.6" x2="362.5" y2="166.3" stroke="#3a3a3a" stroke-width="1.0" stroke-dasharray="3.5,4.70" stroke-dashoffset="5.10"/>
<line x1="499.4" y1="143.6" x2="499.4" y2="166.3" stroke="#3a3a3a" stroke-width="1.0" stroke-dasharray="3.5,4.70" stroke-dashoffset="4.70"/>
<line x1="10.2" y1="361.1" x2="145.7" y2="361.1" stroke="#3a3a3a" stroke-width="1.0" stroke-dasharray="3.5,4.70" stroke-dashoffset="8.10"/>
<line x1="10.2" y1="386.5" x2="145.7" y2="386.5" stroke="#3a3a3a" stroke-width="1.0" stroke-dasharray="3.5,4.70" stroke-dashoffset="3.60"/>
<line x1="10.2" y1="361.1" x2="10.2" y2="386.5" stroke="#3a3a3a" stroke-width="1.0" stroke-dasharray="3.5,4.70" stroke-dashoffset="2.80"/>
<line x1="145.7" y1="361.1" x2="145.7" y2="386.5" stroke="#3a3a3a" stroke-width="1.0" stroke-dasharray="3.5,4.70" stroke-dashoffset="3.30"/>
</svg></body></html>
